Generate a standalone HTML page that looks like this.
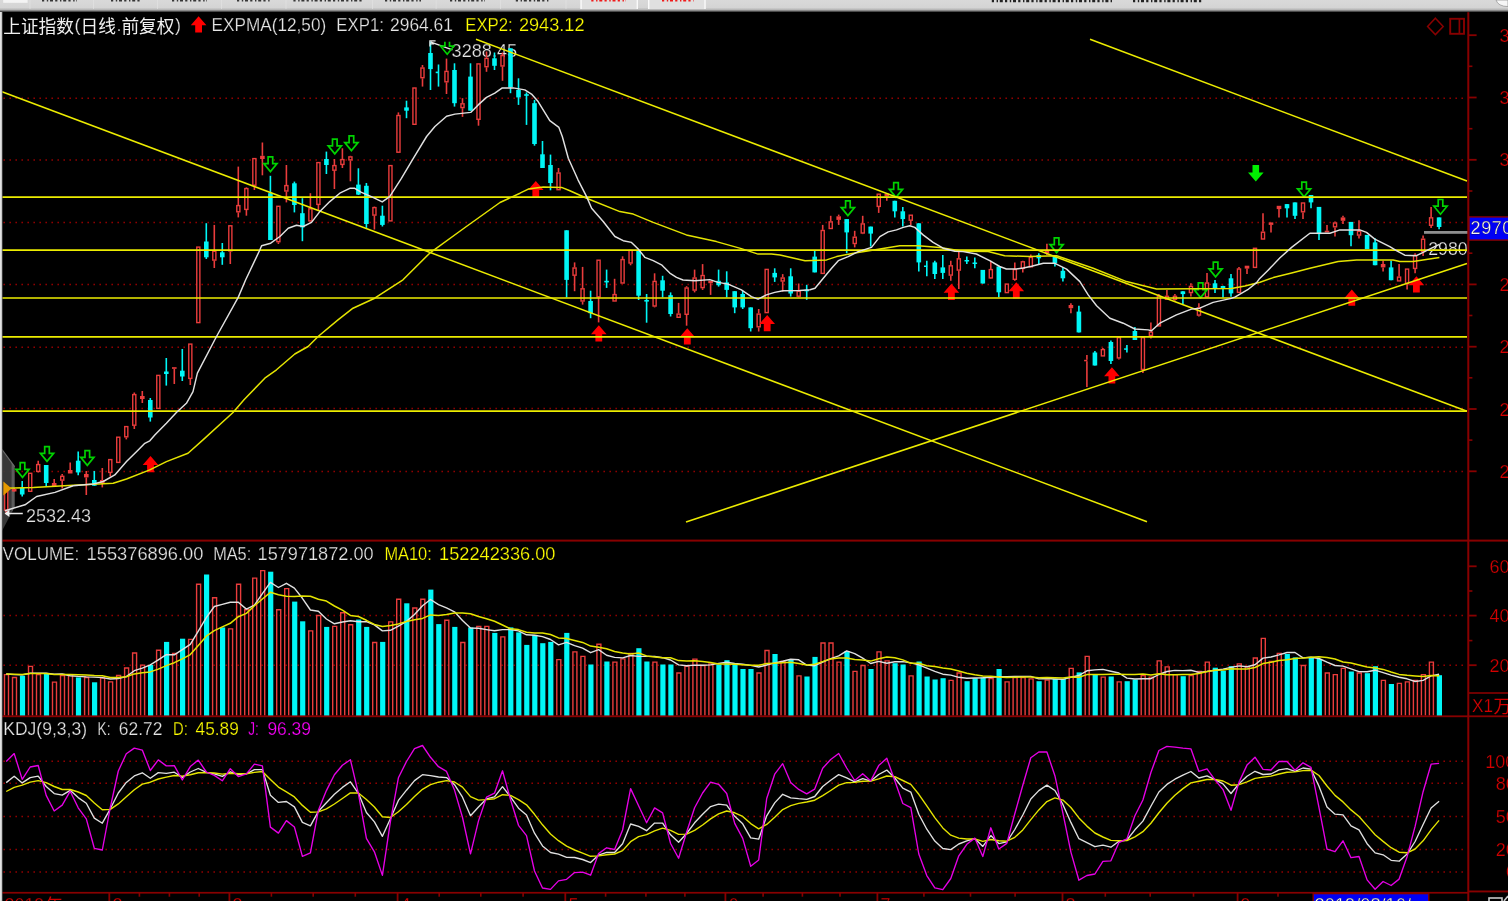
<!DOCTYPE html>
<html><head><meta charset="utf-8"><title>chart</title>
<style>html,body{margin:0;padding:0;background:#000;overflow:hidden}body{width:1508px;height:901px;position:relative;font-family:"Liberation Sans",sans-serif}</style></head>
<body>
<svg width="1508" height="901" viewBox="0 0 1508 901" style="display:block;position:absolute;left:0;top:0;will-change:transform" font-family="Liberation Sans, sans-serif">
<defs>
<linearGradient id="tb" x1="0" y1="0" x2="0" y2="1"><stop offset="0" stop-color="#d9d9d9"/><stop offset="0.62" stop-color="#d4d4d4"/><stop offset="0.8" stop-color="#b4b4b4"/><stop offset="0.93" stop-color="#5a5a5a"/><stop offset="1" stop-color="#000"/></linearGradient>
</defs>
<rect width="1508" height="901" fill="#000"/>
<line x1="3.45" y1="98.2" x2="1464" y2="98.2" stroke="#980000" stroke-width="1.5" stroke-dasharray="1.5 4.5"/>
<line x1="3.45" y1="160" x2="1464" y2="160" stroke="#980000" stroke-width="1.5" stroke-dasharray="1.5 4.5"/>
<line x1="3.45" y1="222.6" x2="1464" y2="222.6" stroke="#980000" stroke-width="1.5" stroke-dasharray="1.5 4.5"/>
<line x1="3.45" y1="284.4" x2="1464" y2="284.4" stroke="#980000" stroke-width="1.5" stroke-dasharray="1.5 4.5"/>
<line x1="3.45" y1="347.2" x2="1464" y2="347.2" stroke="#980000" stroke-width="1.5" stroke-dasharray="1.5 4.5"/>
<line x1="3.45" y1="408.6" x2="1464" y2="408.6" stroke="#980000" stroke-width="1.5" stroke-dasharray="1.5 4.5"/>
<line x1="3.45" y1="471.6" x2="1464" y2="471.6" stroke="#980000" stroke-width="1.5" stroke-dasharray="1.5 4.5"/>
<line x1="3.45" y1="615.5" x2="1464" y2="615.5" stroke="#980000" stroke-width="1.5" stroke-dasharray="1.5 4.5"/>
<line x1="3.45" y1="665.2" x2="1464" y2="665.2" stroke="#980000" stroke-width="1.5" stroke-dasharray="1.5 4.5"/>
<line x1="3.45" y1="761.3" x2="1464" y2="761.3" stroke="#980000" stroke-width="1.5" stroke-dasharray="1.5 4.5"/>
<line x1="3.45" y1="783.3" x2="1464" y2="783.3" stroke="#980000" stroke-width="1.5" stroke-dasharray="1.5 4.5"/>
<line x1="3.45" y1="816.6" x2="1464" y2="816.6" stroke="#980000" stroke-width="1.5" stroke-dasharray="1.5 4.5"/>
<line x1="3.45" y1="849.6" x2="1464" y2="849.6" stroke="#980000" stroke-width="1.5" stroke-dasharray="1.5 4.5"/>
<line x1="3.45" y1="872.1" x2="1464" y2="872.1" stroke="#980000" stroke-width="1.5" stroke-dasharray="1.5 4.5"/>
<text x="451.6" y="56.9" font-size="18" fill="#e6e6e6" text-anchor="start" textLength="65.6" lengthAdjust="spacingAndGlyphs" stroke="#000" stroke-width="0.25">3288.45</text>
<text x="26" y="521.8" font-size="18" fill="#e6e6e6" text-anchor="start" textLength="65" lengthAdjust="spacingAndGlyphs" stroke="#000" stroke-width="0.25">2532.43</text>
<text x="1428.2" y="255" font-size="18" fill="#e6e6e6" text-anchor="start" textLength="39.4" lengthAdjust="spacingAndGlyphs" stroke="#000" stroke-width="0.25">2980</text>
<rect x="1424" y="231" width="44" height="2.8" fill="#8e8e8e"/>
<path d="M2,449.5L14.6,466.6V507L2,531Z" fill="#3c3c3c" fill-opacity="0.92"/>
<path d="M11.6,462.6L14.6,466.6V507L11.6,512.6Z" fill="#606060" fill-opacity="0.9"/>
<path d="M2,449.5L14.6,466.6" stroke="#6a6a6a" stroke-width="1.2" fill="none"/>
<line x1="6.2" y1="510.7" x2="6.2" y2="513" stroke="#ea3c3c" stroke-width="1.6"/>
<rect x="4.65" y="488.0" width="3.1" height="22.1" fill="#000" stroke="#ea3c3c" stroke-width="1.4"/>
<line x1="14.2" y1="488" x2="14.2" y2="489" stroke="#ea3c3c" stroke-width="1.6"/>
<line x1="14.2" y1="491.5" x2="14.2" y2="492" stroke="#ea3c3c" stroke-width="1.6"/>
<rect x="11.9" y="489.0" width="4.6" height="2.5" fill="#ea3c3c"/>
<line x1="22.2" y1="481" x2="22.2" y2="496.5" stroke="#00f6f6" stroke-width="1.6"/>
<rect x="19.9" y="488.0" width="4.6" height="6.5" fill="#00f6f6"/>
<rect x="28.66" y="473.3" width="3.1" height="18.0" fill="#000" stroke="#ea3c3c" stroke-width="1.4"/>
<line x1="38.2" y1="460.7" x2="38.2" y2="464" stroke="#ea3c3c" stroke-width="1.6"/>
<line x1="38.2" y1="472" x2="38.2" y2="472.4" stroke="#ea3c3c" stroke-width="1.6"/>
<rect x="36.67" y="464.6" width="3.1" height="6.8" fill="#000" stroke="#ea3c3c" stroke-width="1.4"/>
<line x1="46.2" y1="465" x2="46.2" y2="486.5" stroke="#00f6f6" stroke-width="1.6"/>
<rect x="43.9" y="465.0" width="4.6" height="18.0" fill="#00f6f6"/>
<line x1="54.2" y1="479" x2="54.2" y2="483" stroke="#ea3c3c" stroke-width="1.6"/>
<rect x="51.9" y="483.0" width="4.6" height="3.5" fill="#ea3c3c"/>
<line x1="62.2" y1="474" x2="62.2" y2="475.7" stroke="#ea3c3c" stroke-width="1.6"/>
<line x1="62.2" y1="480.7" x2="62.2" y2="488.5" stroke="#ea3c3c" stroke-width="1.6"/>
<rect x="60.69" y="476.3" width="3.1" height="3.8" fill="#000" stroke="#ea3c3c" stroke-width="1.4"/>
<line x1="70.2" y1="462.4" x2="70.2" y2="470" stroke="#ea3c3c" stroke-width="1.6"/>
<rect x="67.9" y="470.0" width="4.6" height="3.5" fill="#ea3c3c"/>
<line x1="78.2" y1="451.6" x2="78.2" y2="475.2" stroke="#00f6f6" stroke-width="1.6"/>
<rect x="75.9" y="460.7" width="4.6" height="11.7" fill="#00f6f6"/>
<line x1="86.3" y1="471" x2="86.3" y2="474" stroke="#ea3c3c" stroke-width="1.6"/>
<line x1="86.3" y1="477.4" x2="86.3" y2="495" stroke="#ea3c3c" stroke-width="1.6"/>
<rect x="84.0" y="474.0" width="4.6" height="3.4" fill="#ea3c3c"/>
<line x1="94.3" y1="471" x2="94.3" y2="485.7" stroke="#00f6f6" stroke-width="1.6"/>
<rect x="92.0" y="480.0" width="4.6" height="5.7" fill="#00f6f6"/>
<line x1="102.3" y1="468" x2="102.3" y2="480" stroke="#ea3c3c" stroke-width="1.6"/>
<line x1="102.3" y1="483" x2="102.3" y2="487.4" stroke="#ea3c3c" stroke-width="1.6"/>
<rect x="100.0" y="480.0" width="4.6" height="3.0" fill="#ea3c3c"/>
<line x1="110.3" y1="473" x2="110.3" y2="476.5" stroke="#ea3c3c" stroke-width="1.6"/>
<rect x="108.72" y="459.6" width="3.1" height="12.8" fill="#000" stroke="#ea3c3c" stroke-width="1.4"/>
<rect x="116.72" y="437.2" width="3.1" height="25.2" fill="#000" stroke="#ea3c3c" stroke-width="1.4"/>
<line x1="126.3" y1="437.4" x2="126.3" y2="439.4" stroke="#ea3c3c" stroke-width="1.6"/>
<rect x="124.73" y="426.6" width="3.1" height="10.2" fill="#000" stroke="#ea3c3c" stroke-width="1.4"/>
<line x1="134.3" y1="392.5" x2="134.3" y2="394" stroke="#ea3c3c" stroke-width="1.6"/>
<line x1="134.3" y1="425.8" x2="134.3" y2="429" stroke="#ea3c3c" stroke-width="1.6"/>
<rect x="132.73" y="394.6" width="3.1" height="30.6" fill="#000" stroke="#ea3c3c" stroke-width="1.4"/>
<line x1="142.3" y1="391" x2="142.3" y2="396" stroke="#ea3c3c" stroke-width="1.6"/>
<line x1="142.3" y1="399" x2="142.3" y2="403" stroke="#ea3c3c" stroke-width="1.6"/>
<rect x="140.0" y="396.0" width="4.6" height="3.0" fill="#ea3c3c"/>
<line x1="150.3" y1="398" x2="150.3" y2="421.6" stroke="#00f6f6" stroke-width="1.6"/>
<rect x="148.0" y="400.0" width="4.6" height="17.5" fill="#00f6f6"/>
<rect x="156.75" y="375.4" width="3.1" height="33.0" fill="#000" stroke="#ea3c3c" stroke-width="1.4"/>
<line x1="166.3" y1="358" x2="166.3" y2="385.6" stroke="#00f6f6" stroke-width="1.6"/>
<rect x="164.0" y="371.5" width="4.6" height="2.5" fill="#00f6f6"/>
<line x1="174.3" y1="368.8" x2="174.3" y2="384" stroke="#ea3c3c" stroke-width="1.6"/>
<rect x="172.0" y="367.2" width="4.6" height="1.6" fill="#ea3c3c"/>
<line x1="182.3" y1="349" x2="182.3" y2="381" stroke="#00f6f6" stroke-width="1.6"/>
<rect x="180.0" y="370.7" width="4.6" height="5.8" fill="#00f6f6"/>
<line x1="190.3" y1="379" x2="190.3" y2="385" stroke="#ea3c3c" stroke-width="1.6"/>
<rect x="188.76" y="344.1" width="3.1" height="34.3" fill="#000" stroke="#ea3c3c" stroke-width="1.4"/>
<rect x="196.77" y="247.1" width="3.1" height="75.5" fill="#000" stroke="#ea3c3c" stroke-width="1.4"/>
<line x1="206.3" y1="223.2" x2="206.3" y2="259" stroke="#00f6f6" stroke-width="1.6"/>
<rect x="204.0" y="241.5" width="4.6" height="15.8" fill="#00f6f6"/>
<line x1="214.3" y1="224.9" x2="214.3" y2="250.7" stroke="#ea3c3c" stroke-width="1.6"/>
<line x1="214.3" y1="260.7" x2="214.3" y2="268" stroke="#ea3c3c" stroke-width="1.6"/>
<rect x="212.78" y="251.3" width="3.1" height="8.8" fill="#000" stroke="#ea3c3c" stroke-width="1.4"/>
<line x1="222.3" y1="243" x2="222.3" y2="264.8" stroke="#00f6f6" stroke-width="1.6"/>
<rect x="220.0" y="252.3" width="4.6" height="5.0" fill="#00f6f6"/>
<line x1="230.3" y1="251.5" x2="230.3" y2="264" stroke="#ea3c3c" stroke-width="1.6"/>
<rect x="228.79" y="225.8" width="3.1" height="25.1" fill="#000" stroke="#ea3c3c" stroke-width="1.4"/>
<line x1="238.3" y1="166.6" x2="238.3" y2="205" stroke="#ea3c3c" stroke-width="1.6"/>
<line x1="238.3" y1="212.4" x2="238.3" y2="217.4" stroke="#ea3c3c" stroke-width="1.6"/>
<rect x="236.79" y="205.6" width="3.1" height="6.2" fill="#000" stroke="#ea3c3c" stroke-width="1.4"/>
<line x1="246.4" y1="187.4" x2="246.4" y2="188" stroke="#ea3c3c" stroke-width="1.6"/>
<line x1="246.4" y1="210" x2="246.4" y2="215.7" stroke="#ea3c3c" stroke-width="1.6"/>
<rect x="244.80" y="188.6" width="3.1" height="20.8" fill="#000" stroke="#ea3c3c" stroke-width="1.4"/>
<line x1="254.4" y1="185.8" x2="254.4" y2="190" stroke="#ea3c3c" stroke-width="1.6"/>
<rect x="252.81" y="158.6" width="3.1" height="26.6" fill="#000" stroke="#ea3c3c" stroke-width="1.4"/>
<line x1="262.4" y1="142.5" x2="262.4" y2="155.8" stroke="#ea3c3c" stroke-width="1.6"/>
<line x1="262.4" y1="159" x2="262.4" y2="175.3" stroke="#ea3c3c" stroke-width="1.6"/>
<rect x="260.1" y="155.8" width="4.6" height="3.2" fill="#ea3c3c"/>
<line x1="270.4" y1="175.8" x2="270.4" y2="240" stroke="#00f6f6" stroke-width="1.6"/>
<rect x="268.1" y="193.2" width="4.6" height="46.8" fill="#00f6f6"/>
<line x1="278.4" y1="242.3" x2="278.4" y2="244" stroke="#ea3c3c" stroke-width="1.6"/>
<rect x="276.82" y="206.3" width="3.1" height="35.4" fill="#000" stroke="#ea3c3c" stroke-width="1.4"/>
<line x1="286.4" y1="165" x2="286.4" y2="185" stroke="#ea3c3c" stroke-width="1.6"/>
<line x1="286.4" y1="191.6" x2="286.4" y2="202.4" stroke="#ea3c3c" stroke-width="1.6"/>
<rect x="284.82" y="185.6" width="3.1" height="5.4" fill="#000" stroke="#ea3c3c" stroke-width="1.4"/>
<line x1="294.4" y1="181.6" x2="294.4" y2="212.4" stroke="#00f6f6" stroke-width="1.6"/>
<rect x="292.1" y="183.3" width="4.6" height="21.7" fill="#00f6f6"/>
<line x1="302.4" y1="198.2" x2="302.4" y2="241.2" stroke="#00f6f6" stroke-width="1.6"/>
<rect x="300.1" y="213.2" width="4.6" height="14.2" fill="#00f6f6"/>
<line x1="310.4" y1="193.2" x2="310.4" y2="208.2" stroke="#ea3c3c" stroke-width="1.6"/>
<line x1="310.4" y1="221.5" x2="310.4" y2="222.4" stroke="#ea3c3c" stroke-width="1.6"/>
<rect x="308.84" y="208.8" width="3.1" height="12.1" fill="#000" stroke="#ea3c3c" stroke-width="1.4"/>
<line x1="318.4" y1="205" x2="318.4" y2="210.7" stroke="#ea3c3c" stroke-width="1.6"/>
<rect x="316.85" y="162.6" width="3.1" height="41.8" fill="#000" stroke="#ea3c3c" stroke-width="1.4"/>
<line x1="326.4" y1="151.6" x2="326.4" y2="174" stroke="#00f6f6" stroke-width="1.6"/>
<rect x="324.1" y="159.0" width="4.6" height="6.0" fill="#00f6f6"/>
<line x1="334.4" y1="159" x2="334.4" y2="165" stroke="#ea3c3c" stroke-width="1.6"/>
<line x1="334.4" y1="170.8" x2="334.4" y2="189" stroke="#ea3c3c" stroke-width="1.6"/>
<rect x="332.86" y="165.6" width="3.1" height="4.6" fill="#000" stroke="#ea3c3c" stroke-width="1.4"/>
<line x1="342.4" y1="148.3" x2="342.4" y2="159" stroke="#ea3c3c" stroke-width="1.6"/>
<line x1="342.4" y1="165" x2="342.4" y2="168" stroke="#ea3c3c" stroke-width="1.6"/>
<rect x="340.86" y="159.6" width="3.1" height="4.8" fill="#000" stroke="#ea3c3c" stroke-width="1.4"/>
<line x1="350.4" y1="155.8" x2="350.4" y2="156.3" stroke="#ea3c3c" stroke-width="1.6"/>
<line x1="350.4" y1="160.5" x2="350.4" y2="181.3" stroke="#ea3c3c" stroke-width="1.6"/>
<rect x="348.87" y="156.9" width="3.1" height="3.0" fill="#000" stroke="#ea3c3c" stroke-width="1.4"/>
<line x1="358.4" y1="168.3" x2="358.4" y2="195" stroke="#00f6f6" stroke-width="1.6"/>
<rect x="356.1" y="184.6" width="4.6" height="10.0" fill="#00f6f6"/>
<line x1="366.4" y1="183" x2="366.4" y2="227.9" stroke="#00f6f6" stroke-width="1.6"/>
<rect x="364.1" y="185.8" width="4.6" height="38.2" fill="#00f6f6"/>
<line x1="374.4" y1="206.6" x2="374.4" y2="207" stroke="#ea3c3c" stroke-width="1.6"/>
<line x1="374.4" y1="215.7" x2="374.4" y2="229.5" stroke="#ea3c3c" stroke-width="1.6"/>
<rect x="372.88" y="207.6" width="3.1" height="7.5" fill="#000" stroke="#ea3c3c" stroke-width="1.4"/>
<line x1="382.4" y1="205.7" x2="382.4" y2="226.5" stroke="#00f6f6" stroke-width="1.6"/>
<rect x="380.1" y="215.7" width="4.6" height="9.2" fill="#00f6f6"/>
<rect x="388.89" y="165.6" width="3.1" height="55.3" fill="#000" stroke="#ea3c3c" stroke-width="1.4"/>
<line x1="398.4" y1="112.4" x2="398.4" y2="114.9" stroke="#ea3c3c" stroke-width="1.6"/>
<rect x="396.90" y="115.5" width="3.1" height="36.7" fill="#000" stroke="#ea3c3c" stroke-width="1.4"/>
<line x1="406.5" y1="100.7" x2="406.5" y2="118.2" stroke="#00f6f6" stroke-width="1.6"/>
<rect x="404.2" y="107.4" width="4.6" height="3.3" fill="#00f6f6"/>
<rect x="412.91" y="88.0" width="3.1" height="36.3" fill="#000" stroke="#ea3c3c" stroke-width="1.4"/>
<line x1="422.5" y1="65" x2="422.5" y2="67.4" stroke="#ea3c3c" stroke-width="1.6"/>
<line x1="422.5" y1="78.3" x2="422.5" y2="86.6" stroke="#ea3c3c" stroke-width="1.6"/>
<rect x="420.91" y="68.0" width="3.1" height="9.7" fill="#000" stroke="#ea3c3c" stroke-width="1.4"/>
<line x1="430.5" y1="41.6" x2="430.5" y2="90" stroke="#00f6f6" stroke-width="1.6"/>
<rect x="428.2" y="53.0" width="4.6" height="16.1" fill="#00f6f6"/>
<line x1="438.5" y1="64.5" x2="438.5" y2="86.6" stroke="#00f6f6" stroke-width="1.6"/>
<rect x="435.7" y="71.6" width="3.2" height="1.6" fill="#00f6f6"/>
<line x1="446.5" y1="58.6" x2="446.5" y2="70.8" stroke="#ea3c3c" stroke-width="1.6"/>
<line x1="446.5" y1="82.4" x2="446.5" y2="94" stroke="#ea3c3c" stroke-width="1.6"/>
<rect x="444.93" y="71.4" width="3.1" height="10.4" fill="#000" stroke="#ea3c3c" stroke-width="1.4"/>
<line x1="454.5" y1="63.3" x2="454.5" y2="106.6" stroke="#00f6f6" stroke-width="1.6"/>
<rect x="452.2" y="70.0" width="4.6" height="33.2" fill="#00f6f6"/>
<line x1="462.5" y1="98.2" x2="462.5" y2="103.2" stroke="#ea3c3c" stroke-width="1.6"/>
<line x1="462.5" y1="108.2" x2="462.5" y2="116.9" stroke="#ea3c3c" stroke-width="1.6"/>
<rect x="460.94" y="103.8" width="3.1" height="3.8" fill="#000" stroke="#ea3c3c" stroke-width="1.4"/>
<line x1="470.5" y1="63.3" x2="470.5" y2="110.7" stroke="#00f6f6" stroke-width="1.6"/>
<rect x="468.2" y="76.6" width="4.6" height="34.1" fill="#00f6f6"/>
<line x1="478.5" y1="119.9" x2="478.5" y2="125.7" stroke="#ea3c3c" stroke-width="1.6"/>
<rect x="476.95" y="63.9" width="3.1" height="55.4" fill="#000" stroke="#ea3c3c" stroke-width="1.4"/>
<line x1="486.5" y1="51.5" x2="486.5" y2="57.8" stroke="#ea3c3c" stroke-width="1.6"/>
<line x1="486.5" y1="67.3" x2="486.5" y2="71.8" stroke="#ea3c3c" stroke-width="1.6"/>
<rect x="484.95" y="58.4" width="3.1" height="8.3" fill="#000" stroke="#ea3c3c" stroke-width="1.4"/>
<line x1="494.5" y1="52.5" x2="494.5" y2="70" stroke="#00f6f6" stroke-width="1.6"/>
<rect x="492.2" y="58.3" width="4.6" height="7.5" fill="#00f6f6"/>
<line x1="502.5" y1="52.5" x2="502.5" y2="55" stroke="#ea3c3c" stroke-width="1.6"/>
<line x1="502.5" y1="66.6" x2="502.5" y2="80.8" stroke="#ea3c3c" stroke-width="1.6"/>
<rect x="500.96" y="55.6" width="3.1" height="10.4" fill="#000" stroke="#ea3c3c" stroke-width="1.4"/>
<line x1="510.5" y1="48.3" x2="510.5" y2="93.2" stroke="#00f6f6" stroke-width="1.6"/>
<rect x="508.2" y="48.3" width="4.6" height="39.1" fill="#00f6f6"/>
<line x1="518.5" y1="78.3" x2="518.5" y2="104.9" stroke="#00f6f6" stroke-width="1.6"/>
<rect x="516.2" y="89.9" width="4.6" height="7.5" fill="#00f6f6"/>
<line x1="526.5" y1="92.4" x2="526.5" y2="124.9" stroke="#00f6f6" stroke-width="1.6"/>
<rect x="524.2" y="94.2" width="4.6" height="1.6" fill="#00f6f6"/>
<line x1="534.5" y1="99.9" x2="534.5" y2="145.7" stroke="#00f6f6" stroke-width="1.6"/>
<rect x="532.2" y="103.2" width="4.6" height="40.8" fill="#00f6f6"/>
<line x1="542.5" y1="141" x2="542.5" y2="168" stroke="#00f6f6" stroke-width="1.6"/>
<rect x="540.2" y="154.3" width="4.6" height="13.7" fill="#00f6f6"/>
<line x1="550.5" y1="154.6" x2="550.5" y2="190.3" stroke="#00f6f6" stroke-width="1.6"/>
<rect x="548.2" y="165.0" width="4.6" height="18.0" fill="#00f6f6"/>
<line x1="558.5" y1="168" x2="558.5" y2="172.4" stroke="#ea3c3c" stroke-width="1.6"/>
<rect x="557.00" y="173.0" width="3.1" height="16.7" fill="#000" stroke="#ea3c3c" stroke-width="1.4"/>
<line x1="566.6" y1="230.3" x2="566.6" y2="297.4" stroke="#00f6f6" stroke-width="1.6"/>
<rect x="564.3" y="230.3" width="4.6" height="49.6" fill="#00f6f6"/>
<line x1="574.6" y1="262.4" x2="574.6" y2="267.4" stroke="#ea3c3c" stroke-width="1.6"/>
<line x1="574.6" y1="275.8" x2="574.6" y2="291.2" stroke="#ea3c3c" stroke-width="1.6"/>
<rect x="573.01" y="268.0" width="3.1" height="7.2" fill="#000" stroke="#ea3c3c" stroke-width="1.4"/>
<line x1="582.6" y1="266.9" x2="582.6" y2="288.2" stroke="#ea3c3c" stroke-width="1.6"/>
<line x1="582.6" y1="301.6" x2="582.6" y2="304.6" stroke="#ea3c3c" stroke-width="1.6"/>
<rect x="581.01" y="288.8" width="3.1" height="12.2" fill="#000" stroke="#ea3c3c" stroke-width="1.4"/>
<line x1="590.6" y1="290.7" x2="590.6" y2="318.2" stroke="#00f6f6" stroke-width="1.6"/>
<rect x="588.3" y="301.0" width="4.6" height="12.2" fill="#00f6f6"/>
<line x1="598.6" y1="297.4" x2="598.6" y2="322.4" stroke="#ea3c3c" stroke-width="1.6"/>
<rect x="597.02" y="260.2" width="3.1" height="36.6" fill="#000" stroke="#ea3c3c" stroke-width="1.4"/>
<line x1="606.6" y1="269.6" x2="606.6" y2="287.9" stroke="#00f6f6" stroke-width="1.6"/>
<rect x="604.3" y="280.8" width="4.6" height="1.6" fill="#00f6f6"/>
<line x1="614.6" y1="278.8" x2="614.6" y2="294" stroke="#ea3c3c" stroke-width="1.6"/>
<rect x="613.03" y="294.6" width="3.1" height="6.4" fill="#000" stroke="#ea3c3c" stroke-width="1.4"/>
<line x1="622.6" y1="256.3" x2="622.6" y2="259" stroke="#ea3c3c" stroke-width="1.6"/>
<rect x="621.04" y="259.6" width="3.1" height="23.4" fill="#000" stroke="#ea3c3c" stroke-width="1.4"/>
<line x1="630.6" y1="263.6" x2="630.6" y2="265.3" stroke="#ea3c3c" stroke-width="1.6"/>
<rect x="629.04" y="250.4" width="3.1" height="12.6" fill="#000" stroke="#ea3c3c" stroke-width="1.4"/>
<line x1="638.6" y1="250" x2="638.6" y2="300" stroke="#00f6f6" stroke-width="1.6"/>
<rect x="636.3" y="250.0" width="4.6" height="45.7" fill="#00f6f6"/>
<line x1="646.6" y1="294" x2="646.6" y2="322.7" stroke="#00f6f6" stroke-width="1.6"/>
<rect x="644.3" y="300.0" width="4.6" height="1.6" fill="#00f6f6"/>
<line x1="654.6" y1="273.3" x2="654.6" y2="280.8" stroke="#ea3c3c" stroke-width="1.6"/>
<line x1="654.6" y1="306.6" x2="654.6" y2="307.4" stroke="#ea3c3c" stroke-width="1.6"/>
<rect x="653.06" y="281.4" width="3.1" height="24.6" fill="#000" stroke="#ea3c3c" stroke-width="1.4"/>
<line x1="662.6" y1="275.8" x2="662.6" y2="297.4" stroke="#00f6f6" stroke-width="1.6"/>
<rect x="660.3" y="280.3" width="4.6" height="10.4" fill="#00f6f6"/>
<line x1="670.6" y1="292.4" x2="670.6" y2="316.5" stroke="#00f6f6" stroke-width="1.6"/>
<rect x="668.3" y="295.2" width="4.6" height="18.8" fill="#00f6f6"/>
<line x1="678.6" y1="302.9" x2="678.6" y2="313.5" stroke="#ea3c3c" stroke-width="1.6"/>
<rect x="677.07" y="314.1" width="3.1" height="3.2" fill="#000" stroke="#ea3c3c" stroke-width="1.4"/>
<line x1="686.6" y1="286.2" x2="686.6" y2="287.4" stroke="#ea3c3c" stroke-width="1.6"/>
<line x1="686.6" y1="314.9" x2="686.6" y2="325.7" stroke="#ea3c3c" stroke-width="1.6"/>
<rect x="685.08" y="288.0" width="3.1" height="26.3" fill="#000" stroke="#ea3c3c" stroke-width="1.4"/>
<line x1="694.6" y1="269.6" x2="694.6" y2="277.4" stroke="#ea3c3c" stroke-width="1.6"/>
<line x1="694.6" y1="290.7" x2="694.6" y2="292.4" stroke="#ea3c3c" stroke-width="1.6"/>
<rect x="693.08" y="278.0" width="3.1" height="12.1" fill="#000" stroke="#ea3c3c" stroke-width="1.4"/>
<line x1="702.6" y1="264.1" x2="702.6" y2="274.9" stroke="#ea3c3c" stroke-width="1.6"/>
<line x1="702.6" y1="288.2" x2="702.6" y2="289.9" stroke="#ea3c3c" stroke-width="1.6"/>
<rect x="701.09" y="275.5" width="3.1" height="12.1" fill="#000" stroke="#ea3c3c" stroke-width="1.4"/>
<line x1="710.6" y1="283.2" x2="710.6" y2="294.9" stroke="#ea3c3c" stroke-width="1.6"/>
<rect x="708.3" y="280.8" width="4.6" height="2.4" fill="#ea3c3c"/>
<line x1="718.6" y1="269.6" x2="718.6" y2="286.6" stroke="#00f6f6" stroke-width="1.6"/>
<rect x="716.3" y="280.8" width="4.6" height="4.4" fill="#00f6f6"/>
<line x1="726.7" y1="271.3" x2="726.7" y2="297.4" stroke="#00f6f6" stroke-width="1.6"/>
<rect x="724.4" y="282.4" width="4.6" height="7.5" fill="#00f6f6"/>
<line x1="734.7" y1="291.2" x2="734.7" y2="313.2" stroke="#00f6f6" stroke-width="1.6"/>
<rect x="732.4" y="291.2" width="4.6" height="16.2" fill="#00f6f6"/>
<line x1="742.7" y1="290.7" x2="742.7" y2="309" stroke="#00f6f6" stroke-width="1.6"/>
<rect x="740.4" y="294.0" width="4.6" height="13.4" fill="#00f6f6"/>
<line x1="750.7" y1="307.4" x2="750.7" y2="331.5" stroke="#00f6f6" stroke-width="1.6"/>
<rect x="748.4" y="307.4" width="4.6" height="20.8" fill="#00f6f6"/>
<line x1="758.7" y1="309" x2="758.7" y2="313.5" stroke="#ea3c3c" stroke-width="1.6"/>
<line x1="758.7" y1="327.4" x2="758.7" y2="331.5" stroke="#ea3c3c" stroke-width="1.6"/>
<rect x="757.12" y="314.1" width="3.1" height="12.7" fill="#000" stroke="#ea3c3c" stroke-width="1.4"/>
<rect x="765.13" y="269.4" width="3.1" height="43.2" fill="#000" stroke="#ea3c3c" stroke-width="1.4"/>
<line x1="774.7" y1="268.3" x2="774.7" y2="281.9" stroke="#00f6f6" stroke-width="1.6"/>
<rect x="772.4" y="272.9" width="4.6" height="4.5" fill="#00f6f6"/>
<line x1="782.7" y1="274.1" x2="782.7" y2="277.4" stroke="#ea3c3c" stroke-width="1.6"/>
<line x1="782.7" y1="281.6" x2="782.7" y2="291.6" stroke="#ea3c3c" stroke-width="1.6"/>
<rect x="781.14" y="278.0" width="3.1" height="3.0" fill="#000" stroke="#ea3c3c" stroke-width="1.4"/>
<line x1="790.7" y1="268.3" x2="790.7" y2="296.6" stroke="#00f6f6" stroke-width="1.6"/>
<rect x="788.4" y="276.3" width="4.6" height="17.2" fill="#00f6f6"/>
<line x1="798.7" y1="283.5" x2="798.7" y2="290.7" stroke="#ea3c3c" stroke-width="1.6"/>
<line x1="798.7" y1="296.8" x2="798.7" y2="297.3" stroke="#ea3c3c" stroke-width="1.6"/>
<rect x="797.15" y="291.3" width="3.1" height="4.9" fill="#000" stroke="#ea3c3c" stroke-width="1.4"/>
<line x1="806.7" y1="284.8" x2="806.7" y2="299.8" stroke="#00f6f6" stroke-width="1.6"/>
<rect x="804.4" y="289.8" width="4.6" height="1.5" fill="#00f6f6"/>
<line x1="814.7" y1="250.7" x2="814.7" y2="272.4" stroke="#00f6f6" stroke-width="1.6"/>
<rect x="812.4" y="256.6" width="4.6" height="15.8" fill="#00f6f6"/>
<line x1="822.7" y1="224.9" x2="822.7" y2="229.9" stroke="#ea3c3c" stroke-width="1.6"/>
<rect x="821.16" y="230.5" width="3.1" height="42.9" fill="#000" stroke="#ea3c3c" stroke-width="1.4"/>
<line x1="830.7" y1="215.8" x2="830.7" y2="221.3" stroke="#ea3c3c" stroke-width="1.6"/>
<rect x="829.17" y="221.9" width="3.1" height="6.6" fill="#000" stroke="#ea3c3c" stroke-width="1.4"/>
<line x1="838.7" y1="214.6" x2="838.7" y2="216.3" stroke="#ea3c3c" stroke-width="1.6"/>
<line x1="838.7" y1="219.9" x2="838.7" y2="224.9" stroke="#ea3c3c" stroke-width="1.6"/>
<rect x="836.4" y="216.3" width="4.6" height="3.6" fill="#ea3c3c"/>
<line x1="846.7" y1="219.1" x2="846.7" y2="253.2" stroke="#00f6f6" stroke-width="1.6"/>
<rect x="844.4" y="219.1" width="4.6" height="13.3" fill="#00f6f6"/>
<line x1="854.7" y1="230.8" x2="854.7" y2="236.6" stroke="#ea3c3c" stroke-width="1.6"/>
<line x1="854.7" y1="244.1" x2="854.7" y2="247.4" stroke="#ea3c3c" stroke-width="1.6"/>
<rect x="853.18" y="237.2" width="3.1" height="6.3" fill="#000" stroke="#ea3c3c" stroke-width="1.4"/>
<line x1="862.7" y1="215.8" x2="862.7" y2="223.3" stroke="#ea3c3c" stroke-width="1.6"/>
<line x1="862.7" y1="233.6" x2="862.7" y2="234.1" stroke="#ea3c3c" stroke-width="1.6"/>
<rect x="861.19" y="223.9" width="3.1" height="9.1" fill="#000" stroke="#ea3c3c" stroke-width="1.4"/>
<line x1="870.7" y1="226.6" x2="870.7" y2="246.6" stroke="#00f6f6" stroke-width="1.6"/>
<rect x="868.4" y="226.6" width="4.6" height="7.0" fill="#00f6f6"/>
<line x1="878.7" y1="207" x2="878.7" y2="212.9" stroke="#ea3c3c" stroke-width="1.6"/>
<rect x="877.20" y="194.2" width="3.1" height="12.2" fill="#000" stroke="#ea3c3c" stroke-width="1.4"/>
<line x1="886.8" y1="196.6" x2="886.8" y2="200.8" stroke="#ea3c3c" stroke-width="1.6"/>
<rect x="884.5" y="193.6" width="4.6" height="3.0" fill="#ea3c3c"/>
<line x1="894.8" y1="200.8" x2="894.8" y2="217.4" stroke="#00f6f6" stroke-width="1.6"/>
<rect x="892.5" y="200.8" width="4.6" height="10.5" fill="#00f6f6"/>
<line x1="902.8" y1="207" x2="902.8" y2="226.6" stroke="#00f6f6" stroke-width="1.6"/>
<rect x="900.5" y="211.3" width="4.6" height="7.8" fill="#00f6f6"/>
<line x1="910.8" y1="220.8" x2="910.8" y2="224.9" stroke="#ea3c3c" stroke-width="1.6"/>
<rect x="909.22" y="215.2" width="3.1" height="5.0" fill="#000" stroke="#ea3c3c" stroke-width="1.4"/>
<line x1="918.8" y1="223.3" x2="918.8" y2="271.5" stroke="#00f6f6" stroke-width="1.6"/>
<rect x="916.5" y="223.3" width="4.6" height="39.1" fill="#00f6f6"/>
<line x1="926.8" y1="260.7" x2="926.8" y2="276.2" stroke="#00f6f6" stroke-width="1.6"/>
<rect x="924.0" y="265.5" width="3.2" height="1.5" fill="#00f6f6"/>
<line x1="934.8" y1="260.7" x2="934.8" y2="279" stroke="#00f6f6" stroke-width="1.6"/>
<rect x="932.5" y="262.4" width="4.6" height="11.6" fill="#00f6f6"/>
<line x1="942.8" y1="254.9" x2="942.8" y2="279" stroke="#00f6f6" stroke-width="1.6"/>
<rect x="940.5" y="267.4" width="4.6" height="5.5" fill="#00f6f6"/>
<line x1="950.8" y1="260.7" x2="950.8" y2="265.2" stroke="#ea3c3c" stroke-width="1.6"/>
<line x1="950.8" y1="275.7" x2="950.8" y2="280.7" stroke="#ea3c3c" stroke-width="1.6"/>
<rect x="949.24" y="265.8" width="3.1" height="9.3" fill="#000" stroke="#ea3c3c" stroke-width="1.4"/>
<line x1="958.8" y1="250.7" x2="958.8" y2="258.2" stroke="#ea3c3c" stroke-width="1.6"/>
<line x1="958.8" y1="270.7" x2="958.8" y2="289" stroke="#ea3c3c" stroke-width="1.6"/>
<rect x="957.25" y="258.8" width="3.1" height="11.3" fill="#000" stroke="#ea3c3c" stroke-width="1.4"/>
<line x1="966.8" y1="256.6" x2="966.8" y2="264" stroke="#00f6f6" stroke-width="1.6"/>
<rect x="964.5" y="260.0" width="4.6" height="1.5" fill="#00f6f6"/>
<line x1="974.8" y1="257.4" x2="974.8" y2="268.2" stroke="#00f6f6" stroke-width="1.6"/>
<rect x="972.5" y="262.5" width="4.6" height="1.5" fill="#00f6f6"/>
<line x1="982.8" y1="269.9" x2="982.8" y2="283.5" stroke="#00f6f6" stroke-width="1.6"/>
<rect x="980.5" y="269.9" width="4.6" height="13.6" fill="#00f6f6"/>
<line x1="990.8" y1="260.7" x2="990.8" y2="269" stroke="#ea3c3c" stroke-width="1.6"/>
<line x1="990.8" y1="278.5" x2="990.8" y2="279" stroke="#ea3c3c" stroke-width="1.6"/>
<rect x="989.27" y="269.6" width="3.1" height="8.3" fill="#000" stroke="#ea3c3c" stroke-width="1.4"/>
<line x1="998.8" y1="266.5" x2="998.8" y2="297.3" stroke="#00f6f6" stroke-width="1.6"/>
<rect x="996.5" y="266.5" width="4.6" height="25.8" fill="#00f6f6"/>
<rect x="1005.28" y="284.1" width="3.1" height="8.5" fill="#000" stroke="#ea3c3c" stroke-width="1.4"/>
<line x1="1014.8" y1="262.4" x2="1014.8" y2="269" stroke="#ea3c3c" stroke-width="1.6"/>
<line x1="1014.8" y1="279.9" x2="1014.8" y2="280.7" stroke="#ea3c3c" stroke-width="1.6"/>
<rect x="1013.28" y="269.6" width="3.1" height="9.7" fill="#000" stroke="#ea3c3c" stroke-width="1.4"/>
<line x1="1022.8" y1="260.7" x2="1022.8" y2="261.2" stroke="#ea3c3c" stroke-width="1.6"/>
<line x1="1022.8" y1="269" x2="1022.8" y2="272.4" stroke="#ea3c3c" stroke-width="1.6"/>
<rect x="1021.29" y="261.8" width="3.1" height="6.6" fill="#000" stroke="#ea3c3c" stroke-width="1.4"/>
<line x1="1030.8" y1="254.6" x2="1030.8" y2="256.8" stroke="#ea3c3c" stroke-width="1.6"/>
<rect x="1029.29" y="257.4" width="3.1" height="9.4" fill="#000" stroke="#ea3c3c" stroke-width="1.4"/>
<line x1="1038.8" y1="253.3" x2="1038.8" y2="264" stroke="#00f6f6" stroke-width="1.6"/>
<rect x="1036.5" y="255.0" width="4.6" height="3.3" fill="#00f6f6"/>
<line x1="1046.9" y1="243.8" x2="1046.9" y2="250" stroke="#ea3c3c" stroke-width="1.6"/>
<line x1="1046.9" y1="253.4" x2="1046.9" y2="255" stroke="#ea3c3c" stroke-width="1.6"/>
<rect x="1044.6" y="250.0" width="4.6" height="3.4" fill="#ea3c3c"/>
<line x1="1054.9" y1="255" x2="1054.9" y2="266.6" stroke="#00f6f6" stroke-width="1.6"/>
<rect x="1052.6" y="256.6" width="4.6" height="6.7" fill="#00f6f6"/>
<line x1="1062.9" y1="267" x2="1062.9" y2="281.6" stroke="#00f6f6" stroke-width="1.6"/>
<rect x="1060.6" y="270.8" width="4.6" height="7.5" fill="#00f6f6"/>
<line x1="1070.9" y1="303.2" x2="1070.9" y2="305" stroke="#ea3c3c" stroke-width="1.6"/>
<line x1="1070.9" y1="308.2" x2="1070.9" y2="313.2" stroke="#ea3c3c" stroke-width="1.6"/>
<rect x="1068.6" y="305.0" width="4.6" height="3.2" fill="#ea3c3c"/>
<line x1="1078.9" y1="305.7" x2="1078.9" y2="332.4" stroke="#00f6f6" stroke-width="1.6"/>
<rect x="1076.6" y="311.6" width="4.6" height="20.8" fill="#00f6f6"/>
<line x1="1086.9" y1="355" x2="1086.9" y2="359.8" stroke="#ea3c3c" stroke-width="1.6"/>
<line x1="1086.9" y1="361.3" x2="1086.9" y2="387" stroke="#ea3c3c" stroke-width="1.6"/>
<rect x="1084.1" y="359.8" width="3.2" height="1.5" fill="#ea3c3c"/>
<line x1="1094.9" y1="351" x2="1094.9" y2="365.5" stroke="#00f6f6" stroke-width="1.6"/>
<rect x="1092.6" y="352.5" width="4.6" height="13.0" fill="#00f6f6"/>
<line x1="1102.9" y1="348" x2="1102.9" y2="349" stroke="#ea3c3c" stroke-width="1.6"/>
<rect x="1101.34" y="349.6" width="3.1" height="6.3" fill="#000" stroke="#ea3c3c" stroke-width="1.4"/>
<line x1="1110.9" y1="340.5" x2="1110.9" y2="364" stroke="#00f6f6" stroke-width="1.6"/>
<rect x="1108.6" y="342.0" width="4.6" height="19.0" fill="#00f6f6"/>
<line x1="1118.9" y1="358.5" x2="1118.9" y2="359.5" stroke="#ea3c3c" stroke-width="1.6"/>
<rect x="1117.35" y="337.6" width="3.1" height="20.3" fill="#000" stroke="#ea3c3c" stroke-width="1.4"/>
<line x1="1126.9" y1="345" x2="1126.9" y2="352.5" stroke="#00f6f6" stroke-width="1.6"/>
<rect x="1124.1" y="348.3" width="3.2" height="1.5" fill="#00f6f6"/>
<line x1="1134.9" y1="327" x2="1134.9" y2="340" stroke="#00f6f6" stroke-width="1.6"/>
<rect x="1132.6" y="331.0" width="4.6" height="9.0" fill="#00f6f6"/>
<line x1="1142.9" y1="370" x2="1142.9" y2="373" stroke="#ea3c3c" stroke-width="1.6"/>
<rect x="1141.36" y="337.6" width="3.1" height="31.8" fill="#000" stroke="#ea3c3c" stroke-width="1.4"/>
<line x1="1150.9" y1="322.5" x2="1150.9" y2="331.5" stroke="#ea3c3c" stroke-width="1.6"/>
<line x1="1150.9" y1="336" x2="1150.9" y2="338.5" stroke="#ea3c3c" stroke-width="1.6"/>
<rect x="1149.37" y="332.1" width="3.1" height="3.3" fill="#000" stroke="#ea3c3c" stroke-width="1.4"/>
<line x1="1158.9" y1="294.1" x2="1158.9" y2="295.7" stroke="#ea3c3c" stroke-width="1.6"/>
<rect x="1157.37" y="296.3" width="3.1" height="29.6" fill="#000" stroke="#ea3c3c" stroke-width="1.4"/>
<line x1="1166.9" y1="289.9" x2="1166.9" y2="295.7" stroke="#ea3c3c" stroke-width="1.6"/>
<rect x="1165.38" y="296.3" width="3.1" height="3.0" fill="#000" stroke="#ea3c3c" stroke-width="1.4"/>
<line x1="1174.9" y1="294.1" x2="1174.9" y2="295.7" stroke="#ea3c3c" stroke-width="1.6"/>
<line x1="1174.9" y1="299.9" x2="1174.9" y2="300.7" stroke="#ea3c3c" stroke-width="1.6"/>
<rect x="1173.38" y="296.3" width="3.1" height="3.0" fill="#000" stroke="#ea3c3c" stroke-width="1.4"/>
<line x1="1182.9" y1="291.3" x2="1182.9" y2="304.1" stroke="#00f6f6" stroke-width="1.6"/>
<rect x="1180.6" y="291.3" width="4.6" height="2.8" fill="#00f6f6"/>
<line x1="1190.9" y1="283.3" x2="1190.9" y2="285.8" stroke="#ea3c3c" stroke-width="1.6"/>
<line x1="1190.9" y1="293.2" x2="1190.9" y2="296.6" stroke="#ea3c3c" stroke-width="1.6"/>
<rect x="1189.39" y="286.4" width="3.1" height="6.2" fill="#000" stroke="#ea3c3c" stroke-width="1.4"/>
<line x1="1198.9" y1="303.2" x2="1198.9" y2="307.4" stroke="#ea3c3c" stroke-width="1.6"/>
<line x1="1198.9" y1="315.7" x2="1198.9" y2="316.6" stroke="#ea3c3c" stroke-width="1.6"/>
<rect x="1197.40" y="308.0" width="3.1" height="7.1" fill="#000" stroke="#ea3c3c" stroke-width="1.4"/>
<line x1="1207.0" y1="272.9" x2="1207.0" y2="282.4" stroke="#ea3c3c" stroke-width="1.6"/>
<rect x="1205.40" y="283.0" width="3.1" height="13.8" fill="#000" stroke="#ea3c3c" stroke-width="1.4"/>
<line x1="1215.0" y1="279.9" x2="1215.0" y2="292.9" stroke="#00f6f6" stroke-width="1.6"/>
<rect x="1212.7" y="283.3" width="4.6" height="5.0" fill="#00f6f6"/>
<line x1="1223.0" y1="285.8" x2="1223.0" y2="297.4" stroke="#00f6f6" stroke-width="1.6"/>
<rect x="1220.7" y="286.0" width="4.6" height="2.0" fill="#00f6f6"/>
<line x1="1231.0" y1="274.1" x2="1231.0" y2="296.8" stroke="#00f6f6" stroke-width="1.6"/>
<rect x="1228.7" y="278.3" width="4.6" height="15.1" fill="#00f6f6"/>
<line x1="1239.0" y1="267" x2="1239.0" y2="268.4" stroke="#ea3c3c" stroke-width="1.6"/>
<rect x="1237.42" y="269.0" width="3.1" height="23.4" fill="#000" stroke="#ea3c3c" stroke-width="1.4"/>
<line x1="1247.0" y1="268.6" x2="1247.0" y2="274" stroke="#ea3c3c" stroke-width="1.6"/>
<rect x="1244.7" y="265.7" width="4.6" height="2.9" fill="#ea3c3c"/>
<rect x="1253.43" y="248.3" width="3.1" height="19.1" fill="#000" stroke="#ea3c3c" stroke-width="1.4"/>
<line x1="1263.0" y1="213.3" x2="1263.0" y2="231.6" stroke="#ea3c3c" stroke-width="1.6"/>
<rect x="1261.44" y="232.2" width="3.1" height="6.8" fill="#000" stroke="#ea3c3c" stroke-width="1.4"/>
<line x1="1271.0" y1="224.9" x2="1271.0" y2="232.4" stroke="#ea3c3c" stroke-width="1.6"/>
<rect x="1268.7" y="222.4" width="4.6" height="2.5" fill="#ea3c3c"/>
<line x1="1279.0" y1="209.1" x2="1279.0" y2="217.4" stroke="#ea3c3c" stroke-width="1.6"/>
<rect x="1276.7" y="205.8" width="4.6" height="3.3" fill="#ea3c3c"/>
<line x1="1287.0" y1="204.1" x2="1287.0" y2="217.4" stroke="#00f6f6" stroke-width="1.6"/>
<rect x="1284.7" y="204.1" width="4.6" height="4.2" fill="#00f6f6"/>
<line x1="1295.0" y1="202.4" x2="1295.0" y2="219.1" stroke="#00f6f6" stroke-width="1.6"/>
<rect x="1292.7" y="202.4" width="4.6" height="13.4" fill="#00f6f6"/>
<line x1="1303.0" y1="212.4" x2="1303.0" y2="219.1" stroke="#ea3c3c" stroke-width="1.6"/>
<rect x="1301.46" y="203.0" width="3.1" height="8.8" fill="#000" stroke="#ea3c3c" stroke-width="1.4"/>
<line x1="1311.0" y1="195" x2="1311.0" y2="208.3" stroke="#00f6f6" stroke-width="1.6"/>
<rect x="1308.7" y="195.0" width="4.6" height="7.4" fill="#00f6f6"/>
<line x1="1319.0" y1="206.9" x2="1319.0" y2="239.9" stroke="#00f6f6" stroke-width="1.6"/>
<rect x="1316.7" y="206.9" width="4.6" height="27.2" fill="#00f6f6"/>
<line x1="1327.0" y1="224.9" x2="1327.0" y2="230.7" stroke="#ea3c3c" stroke-width="1.6"/>
<rect x="1324.7" y="230.7" width="4.6" height="1.7" fill="#ea3c3c"/>
<line x1="1335.0" y1="221.6" x2="1335.0" y2="222.4" stroke="#ea3c3c" stroke-width="1.6"/>
<line x1="1335.0" y1="227.4" x2="1335.0" y2="236.6" stroke="#ea3c3c" stroke-width="1.6"/>
<rect x="1333.48" y="223.0" width="3.1" height="3.8" fill="#000" stroke="#ea3c3c" stroke-width="1.4"/>
<line x1="1343.0" y1="215.8" x2="1343.0" y2="217.4" stroke="#ea3c3c" stroke-width="1.6"/>
<line x1="1343.0" y1="220.8" x2="1343.0" y2="224.1" stroke="#ea3c3c" stroke-width="1.6"/>
<rect x="1340.7" y="217.4" width="4.6" height="3.4" fill="#ea3c3c"/>
<line x1="1351.0" y1="221.9" x2="1351.0" y2="246.2" stroke="#00f6f6" stroke-width="1.6"/>
<rect x="1348.7" y="221.9" width="4.6" height="13.3" fill="#00f6f6"/>
<line x1="1359.0" y1="220.3" x2="1359.0" y2="230.7" stroke="#ea3c3c" stroke-width="1.6"/>
<line x1="1359.0" y1="235.7" x2="1359.0" y2="238.6" stroke="#ea3c3c" stroke-width="1.6"/>
<rect x="1357.50" y="231.3" width="3.1" height="3.8" fill="#000" stroke="#ea3c3c" stroke-width="1.4"/>
<line x1="1367.1" y1="234.9" x2="1367.1" y2="249" stroke="#00f6f6" stroke-width="1.6"/>
<rect x="1364.8" y="234.9" width="4.6" height="14.1" fill="#00f6f6"/>
<line x1="1375.1" y1="238.2" x2="1375.1" y2="265.2" stroke="#00f6f6" stroke-width="1.6"/>
<rect x="1372.8" y="242.4" width="4.6" height="22.8" fill="#00f6f6"/>
<line x1="1383.1" y1="260.7" x2="1383.1" y2="264" stroke="#ea3c3c" stroke-width="1.6"/>
<line x1="1383.1" y1="267.4" x2="1383.1" y2="271.5" stroke="#ea3c3c" stroke-width="1.6"/>
<rect x="1380.8" y="264.0" width="4.6" height="3.4" fill="#ea3c3c"/>
<line x1="1391.1" y1="260.7" x2="1391.1" y2="280.2" stroke="#00f6f6" stroke-width="1.6"/>
<rect x="1388.8" y="267.4" width="4.6" height="12.8" fill="#00f6f6"/>
<line x1="1399.1" y1="264" x2="1399.1" y2="276.5" stroke="#ea3c3c" stroke-width="1.6"/>
<rect x="1397.52" y="277.1" width="3.1" height="3.8" fill="#000" stroke="#ea3c3c" stroke-width="1.4"/>
<line x1="1407.1" y1="284" x2="1407.1" y2="289.5" stroke="#ea3c3c" stroke-width="1.6"/>
<rect x="1405.53" y="269.1" width="3.1" height="14.3" fill="#000" stroke="#ea3c3c" stroke-width="1.4"/>
<line x1="1415.1" y1="253.2" x2="1415.1" y2="254.9" stroke="#ea3c3c" stroke-width="1.6"/>
<line x1="1415.1" y1="269" x2="1415.1" y2="273.2" stroke="#ea3c3c" stroke-width="1.6"/>
<rect x="1413.53" y="255.5" width="3.1" height="12.9" fill="#000" stroke="#ea3c3c" stroke-width="1.4"/>
<line x1="1423.1" y1="235.6" x2="1423.1" y2="238.6" stroke="#ea3c3c" stroke-width="1.6"/>
<line x1="1423.1" y1="252" x2="1423.1" y2="256.1" stroke="#ea3c3c" stroke-width="1.6"/>
<rect x="1421.54" y="239.2" width="3.1" height="12.2" fill="#000" stroke="#ea3c3c" stroke-width="1.4"/>
<line x1="1431.1" y1="206.9" x2="1431.1" y2="217.2" stroke="#ea3c3c" stroke-width="1.6"/>
<line x1="1431.1" y1="225.9" x2="1431.1" y2="227.9" stroke="#ea3c3c" stroke-width="1.6"/>
<rect x="1429.54" y="217.8" width="3.1" height="7.5" fill="#000" stroke="#ea3c3c" stroke-width="1.4"/>
<line x1="1439.1" y1="217.4" x2="1439.1" y2="229.3" stroke="#00f6f6" stroke-width="1.6"/>
<rect x="1436.8" y="217.4" width="4.6" height="9.6" fill="#00f6f6"/>
<path d="M429.9,40.3V46.6M429.3,40.9H435.6M429.6,43.9H434.2M431,42.2L452.4,49.8" stroke="#e8e8e8" stroke-width="1.3" fill="none"/>
<path d="M5.6,513.5H22.8" stroke="#e8e8e8" stroke-width="1.5" fill="none"/><path d="M4.6,513.4L9.4,509.8V517Z" fill="#f0f0f0"/>
<path transform="translate(22.5,461.8)" d="M-2.3,0.9H2.3V7.6H6.6L0,15.6L-6.6,7.6H-2.3Z" fill="none" stroke="#00d200" stroke-width="1.7" stroke-linejoin="miter"/>
<path transform="translate(47,445.8)" d="M-2.3,0.9H2.3V7.6H6.6L0,15.6L-6.6,7.6H-2.3Z" fill="none" stroke="#00d200" stroke-width="1.7" stroke-linejoin="miter"/>
<path transform="translate(87.3,449.8)" d="M-2.3,0.9H2.3V7.6H6.6L0,15.6L-6.6,7.6H-2.3Z" fill="none" stroke="#00d200" stroke-width="1.7" stroke-linejoin="miter"/>
<path transform="translate(270.4,156)" d="M-2.3,0.9H2.3V7.6H6.6L0,15.6L-6.6,7.6H-2.3Z" fill="none" stroke="#00d200" stroke-width="1.7" stroke-linejoin="miter"/>
<path transform="translate(334.8,138.3)" d="M-2.3,0.9H2.3V7.6H6.6L0,15.6L-6.6,7.6H-2.3Z" fill="none" stroke="#00d200" stroke-width="1.7" stroke-linejoin="miter"/>
<path transform="translate(351.4,135)" d="M-2.3,0.9H2.3V7.6H6.6L0,15.6L-6.6,7.6H-2.3Z" fill="none" stroke="#00d200" stroke-width="1.7" stroke-linejoin="miter"/>
<path transform="translate(847.9,200)" d="M-2.3,0.9H2.3V7.6H6.6L0,15.6L-6.6,7.6H-2.3Z" fill="none" stroke="#00d200" stroke-width="1.7" stroke-linejoin="miter"/>
<path transform="translate(896,181.7)" d="M-2.3,0.9H2.3V7.6H6.6L0,15.6L-6.6,7.6H-2.3Z" fill="none" stroke="#00d200" stroke-width="1.7" stroke-linejoin="miter"/>
<path transform="translate(1056.6,237)" d="M-2.3,0.9H2.3V7.6H6.6L0,15.6L-6.6,7.6H-2.3Z" fill="none" stroke="#00d200" stroke-width="1.7" stroke-linejoin="miter"/>
<path transform="translate(1200.6,282)" d="M-2.3,0.9H2.3V7.6H6.6L0,15.6L-6.6,7.6H-2.3Z" fill="none" stroke="#00d200" stroke-width="1.7" stroke-linejoin="miter"/>
<path transform="translate(1215.6,261.3)" d="M-2.3,0.9H2.3V7.6H6.6L0,15.6L-6.6,7.6H-2.3Z" fill="none" stroke="#00d200" stroke-width="1.7" stroke-linejoin="miter"/>
<path transform="translate(1304.1,181.3)" d="M-2.3,0.9H2.3V7.6H6.6L0,15.6L-6.6,7.6H-2.3Z" fill="none" stroke="#00d200" stroke-width="1.7" stroke-linejoin="miter"/>
<path transform="translate(1440.5,198.6)" d="M-2.3,0.9H2.3V7.6H6.6L0,15.6L-6.6,7.6H-2.3Z" fill="none" stroke="#00d200" stroke-width="1.7" stroke-linejoin="miter"/>
<path transform="translate(1255.8,165)" d="M-3.3,0H3.3V7.4H7.8L0,16.6L-7.8,7.4H-3.3Z" fill="#00f000"/>
<clipPath id="cp"><rect x="430" y="41.8" width="40" height="20"/></clipPath><g clip-path="url(#cp)"><path transform="translate(447.2,38.6)" d="M-2.3,0.9H2.3V7.6H6.6L0,15.6L-6.6,7.6H-2.3Z" fill="none" stroke="#00d200" stroke-width="1.7" stroke-linejoin="miter"/></g>
<path transform="translate(150.5,456)" d="M0,0L7.8,9H3.4V16.3H-3.4V9H-7.8Z" fill="#ff0000"/>
<path transform="translate(535.8,181)" d="M0,0L7.8,9H3.4V16.3H-3.4V9H-7.8Z" fill="#ff0000"/>
<path transform="translate(598.8,325.2)" d="M0,0L7.8,9H3.4V16.3H-3.4V9H-7.8Z" fill="#ff0000"/>
<path transform="translate(687.3,328.2)" d="M0,0L7.8,9H3.4V16.3H-3.4V9H-7.8Z" fill="#ff0000"/>
<path transform="translate(767.2,314.9)" d="M0,0L7.8,9H3.4V16.3H-3.4V9H-7.8Z" fill="#ff0000"/>
<path transform="translate(951.4,283.7)" d="M0,0L7.8,9H3.4V16.3H-3.4V9H-7.8Z" fill="#ff0000"/>
<path transform="translate(1016.3,282.2)" d="M0,0L7.8,9H3.4V16.3H-3.4V9H-7.8Z" fill="#ff0000"/>
<path transform="translate(1111.9,367.3)" d="M0,0L7.8,9H3.4V16.3H-3.4V9H-7.8Z" fill="#ff0000"/>
<path transform="translate(1351.8,289.5)" d="M0,0L7.8,9H3.4V16.3H-3.4V9H-7.8Z" fill="#ff0000"/>
<path transform="translate(1416.4,276.2)" d="M0,0L7.8,9H3.4V16.3H-3.4V9H-7.8Z" fill="#ff0000"/>
<line x1="2" y1="197.2" x2="1467" y2="197.2" stroke="#ecec00" stroke-width="1.7"/>
<line x1="2" y1="250.2" x2="1467" y2="250.2" stroke="#ecec00" stroke-width="1.7"/>
<line x1="2" y1="298" x2="1467" y2="298" stroke="#ecec00" stroke-width="1.7"/>
<line x1="2" y1="336.8" x2="1467" y2="336.8" stroke="#ecec00" stroke-width="1.7"/>
<line x1="2" y1="411.2" x2="1467" y2="411.2" stroke="#ecec00" stroke-width="1.7"/>
<line x1="2" y1="91.7" x2="1147" y2="521.7" stroke="#ecec00" stroke-width="1.55"/>
<line x1="476" y1="39.2" x2="1467" y2="411.3" stroke="#ecec00" stroke-width="1.55"/>
<line x1="1090" y1="39.3" x2="1467" y2="181" stroke="#ecec00" stroke-width="1.55"/>
<line x1="686" y1="522" x2="1467" y2="263.5" stroke="#ecec00" stroke-width="1.55"/>
<polyline fill="none" stroke="#e4e400" stroke-width="1.5" stroke-linejoin="round" points="5.0,488.2 33.3,487.4 73.2,485.2 113.2,483.2 126.5,479.0 149.8,469.9 166.4,461.6 188.0,453.2 203.0,439.9 233.0,412.5 244.0,399.8 264.8,378.2 276.5,369.8 294.8,354.0 308.1,346.5 318.1,336.5 338.0,319.9 353.0,308.2 374.7,298.2 403.0,279.8 429.7,253.2 465.0,227.5 500.0,202.5 520.0,193.2 528.3,189.1 543.3,186.9 561.6,187.4 569.9,190.8 586.6,198.2 619.9,211.6 633.2,214.1 653.2,222.4 686.4,234.9 716.4,241.6 741.4,248.6 758.1,254.1 771.4,254.1 780.0,254.9 805.0,260.7 826.6,259.9 836.6,256.6 854.9,252.9 879.9,249.1 899.8,245.7 918.2,245.7 939.8,247.4 963.1,251.2 988.1,251.6 1004.7,255.7 1029.7,256.6 1056.6,255.8 1093.2,268.3 1126.5,281.6 1156.5,289.1 1231.4,288.6 1245.0,286.0 1260.0,282.2 1273.3,277.6 1291.6,273.0 1309.9,268.2 1338.2,261.5 1356.5,259.9 1393.1,259.9 1399.8,261.5 1413.1,261.5 1439.4,257.6"/>
<polyline fill="none" stroke="#e0e0e0" stroke-width="1.45" stroke-linejoin="round" points="5.0,510.7 25.0,504.8 36.6,496.5 55.0,492.4 73.2,485.7 93.2,484.0 103.2,481.5 114.8,474.9 126.5,461.6 138.2,449.9 144.8,443.3 149.8,440.8 154.8,435.0 166.4,423.3 176.4,412.5 186.4,403.3 193.0,391.7 197.4,373.2 216.5,336.5 238.2,297.4 245.7,279.8 259.8,250.0 261.6,245.7 270.7,243.2 279.9,236.5 288.2,228.2 296.5,225.2 303.2,226.5 311.5,222.4 319.8,211.6 329.8,201.6 339.8,193.2 349.8,188.3 354.8,188.3 361.4,192.4 371.4,196.6 382.2,201.9 389.7,196.6 401.4,178.3 413.0,158.8 426.6,136.5 434.9,126.5 446.6,116.2 454.9,114.1 470.7,112.4 478.2,104.9 486.5,97.4 494.8,93.2 502.3,87.9 513.2,87.9 524.8,89.9 531.5,94.1 538.1,101.6 549.8,120.7 558.9,127.4 562.3,136.5 568.3,158.3 578.0,179.8 586.6,196.6 591.6,208.2 603.2,221.5 614.9,236.5 623.2,240.7 631.5,242.4 638.2,249.0 644.8,257.3 653.2,260.7 661.5,264.8 669.8,273.1 676.5,277.3 683.0,280.0 694.8,280.8 709.8,279.6 718.1,282.4 728.1,284.1 741.4,289.9 751.4,296.6 758.1,299.1 766.4,294.9 774.7,292.4 783.0,290.7 799.7,290.5 810.0,289.8 815.0,288.2 823.3,278.2 831.6,268.2 838.3,260.7 848.2,256.6 858.2,251.6 871.5,247.4 879.9,236.6 888.2,231.9 896.5,229.9 903.2,227.4 909.8,225.8 914.8,227.4 923.1,234.9 933.1,242.4 943.1,248.2 954.8,251.2 963.1,251.6 976.4,254.0 989.7,260.7 999.7,266.5 1006.4,269.0 1016.3,269.0 1023.3,268.0 1031.6,266.3 1043.3,263.3 1054.9,263.3 1066.6,269.1 1079.9,281.6 1088.2,294.9 1096.6,305.7 1109.9,318.2 1123.2,323.2 1134.8,329.0 1148.2,329.9 1151.5,330.7 1159.8,323.2 1176.4,314.9 1191.4,309.1 1199.7,308.2 1213.1,302.4 1231.4,298.4 1235.3,296.8 1247.7,289.7 1256.6,282.6 1259.2,279.1 1268.1,270.2 1280.0,257.8 1291.6,247.4 1309.9,233.2 1329.9,233.2 1339.9,229.9 1359.8,229.9 1366.5,232.4 1374.8,239.1 1389.8,246.6 1396.4,250.7 1404.8,255.2 1416.4,255.7 1423.1,252.4 1427.0,250.4 1434.7,246.6 1439.4,244.3"/>
<path d="M4.5,715.4V674.6H8.5V715.4" fill="none" stroke="#ea3c3c" stroke-width="1.4"/>
<path d="M12.5,715.4V677.5H16.5V715.4" fill="none" stroke="#ea3c3c" stroke-width="1.4"/>
<rect x="19.9" y="675.7" width="5.2" height="40.5" fill="#00f6f6"/>
<path d="M28.5,715.4V666.4H32.5V715.4" fill="none" stroke="#ea3c3c" stroke-width="1.4"/>
<path d="M36.5,715.4V674.6H40.5V715.4" fill="none" stroke="#ea3c3c" stroke-width="1.4"/>
<rect x="43.9" y="674.0" width="5.2" height="42.2" fill="#00f6f6"/>
<path d="M52.5,715.4V682.1H56.5V715.4" fill="none" stroke="#ea3c3c" stroke-width="1.4"/>
<path d="M60.5,715.4V675.5H64.5V715.4" fill="none" stroke="#ea3c3c" stroke-width="1.4"/>
<path d="M68.5,715.4V674.6H72.5V715.4" fill="none" stroke="#ea3c3c" stroke-width="1.4"/>
<rect x="75.9" y="677.4" width="5.2" height="38.8" fill="#00f6f6"/>
<path d="M84.6,715.4V677.5H88.6V715.4" fill="none" stroke="#ea3c3c" stroke-width="1.4"/>
<rect x="92.0" y="682.3" width="5.2" height="33.9" fill="#00f6f6"/>
<path d="M100.6,715.4V678.0H104.6V715.4" fill="none" stroke="#ea3c3c" stroke-width="1.4"/>
<path d="M108.6,715.4V681.9H112.6V715.4" fill="none" stroke="#ea3c3c" stroke-width="1.4"/>
<path d="M116.6,715.4V675.5H120.6V715.4" fill="none" stroke="#ea3c3c" stroke-width="1.4"/>
<path d="M124.6,715.4V668.0H128.6V715.4" fill="none" stroke="#ea3c3c" stroke-width="1.4"/>
<path d="M132.6,715.4V653.0H136.6V715.4" fill="none" stroke="#ea3c3c" stroke-width="1.4"/>
<path d="M140.6,715.4V665.1H144.6V715.4" fill="none" stroke="#ea3c3c" stroke-width="1.4"/>
<rect x="148.0" y="664.9" width="5.2" height="51.3" fill="#00f6f6"/>
<path d="M156.6,715.4V650.2H160.6V715.4" fill="none" stroke="#ea3c3c" stroke-width="1.4"/>
<rect x="164.0" y="641.9" width="5.2" height="74.3" fill="#00f6f6"/>
<path d="M172.6,715.4V653.5H176.6V715.4" fill="none" stroke="#ea3c3c" stroke-width="1.4"/>
<rect x="180.0" y="638.7" width="5.2" height="77.5" fill="#00f6f6"/>
<path d="M188.6,715.4V639.4H192.6V715.4" fill="none" stroke="#ea3c3c" stroke-width="1.4"/>
<path d="M196.6,715.4V584.2H200.6V715.4" fill="none" stroke="#ea3c3c" stroke-width="1.4"/>
<rect x="204.0" y="574.5" width="5.2" height="141.7" fill="#00f6f6"/>
<path d="M212.6,715.4V597.8H216.6V715.4" fill="none" stroke="#ea3c3c" stroke-width="1.4"/>
<rect x="220.0" y="627.4" width="5.2" height="88.8" fill="#00f6f6"/>
<path d="M228.6,715.4V628.9H232.6V715.4" fill="none" stroke="#ea3c3c" stroke-width="1.4"/>
<path d="M236.6,715.4V584.2H240.6V715.4" fill="none" stroke="#ea3c3c" stroke-width="1.4"/>
<path d="M244.7,715.4V609.8H248.7V715.4" fill="none" stroke="#ea3c3c" stroke-width="1.4"/>
<path d="M252.7,715.4V578.1H256.7V715.4" fill="none" stroke="#ea3c3c" stroke-width="1.4"/>
<path d="M260.7,715.4V570.6H264.7V715.4" fill="none" stroke="#ea3c3c" stroke-width="1.4"/>
<rect x="268.1" y="571.7" width="5.2" height="144.5" fill="#00f6f6"/>
<path d="M276.7,715.4V609.8H280.7V715.4" fill="none" stroke="#ea3c3c" stroke-width="1.4"/>
<path d="M284.7,715.4V588.6H288.7V715.4" fill="none" stroke="#ea3c3c" stroke-width="1.4"/>
<rect x="292.1" y="601.6" width="5.2" height="114.6" fill="#00f6f6"/>
<rect x="300.1" y="621.3" width="5.2" height="94.9" fill="#00f6f6"/>
<path d="M308.7,715.4V630.9H312.7V715.4" fill="none" stroke="#ea3c3c" stroke-width="1.4"/>
<path d="M316.7,715.4V615.5H320.7V715.4" fill="none" stroke="#ea3c3c" stroke-width="1.4"/>
<rect x="324.1" y="626.9" width="5.2" height="89.3" fill="#00f6f6"/>
<path d="M332.7,715.4V626.4H336.7V715.4" fill="none" stroke="#ea3c3c" stroke-width="1.4"/>
<path d="M340.7,715.4V612.8H344.7V715.4" fill="none" stroke="#ea3c3c" stroke-width="1.4"/>
<path d="M348.7,715.4V624.8H352.7V715.4" fill="none" stroke="#ea3c3c" stroke-width="1.4"/>
<rect x="356.1" y="619.6" width="5.2" height="96.6" fill="#00f6f6"/>
<rect x="364.1" y="626.9" width="5.2" height="89.3" fill="#00f6f6"/>
<path d="M372.7,715.4V642.5H376.7V715.4" fill="none" stroke="#ea3c3c" stroke-width="1.4"/>
<rect x="380.1" y="641.9" width="5.2" height="74.3" fill="#00f6f6"/>
<path d="M388.7,715.4V621.9H392.7V715.4" fill="none" stroke="#ea3c3c" stroke-width="1.4"/>
<path d="M396.7,715.4V599.2H400.7V715.4" fill="none" stroke="#ea3c3c" stroke-width="1.4"/>
<rect x="404.2" y="603.3" width="5.2" height="112.9" fill="#00f6f6"/>
<path d="M412.8,715.4V608.0H416.8V715.4" fill="none" stroke="#ea3c3c" stroke-width="1.4"/>
<path d="M420.8,715.4V599.2H424.8V715.4" fill="none" stroke="#ea3c3c" stroke-width="1.4"/>
<rect x="428.2" y="589.6" width="5.2" height="126.6" fill="#00f6f6"/>
<rect x="436.2" y="624.1" width="5.2" height="92.1" fill="#00f6f6"/>
<path d="M444.8,715.4V620.2H448.8V715.4" fill="none" stroke="#ea3c3c" stroke-width="1.4"/>
<rect x="452.2" y="626.9" width="5.2" height="89.3" fill="#00f6f6"/>
<path d="M460.8,715.4V642.5H464.8V715.4" fill="none" stroke="#ea3c3c" stroke-width="1.4"/>
<rect x="468.2" y="627.4" width="5.2" height="88.8" fill="#00f6f6"/>
<path d="M476.8,715.4V626.4H480.8V715.4" fill="none" stroke="#ea3c3c" stroke-width="1.4"/>
<path d="M484.8,715.4V626.4H488.8V715.4" fill="none" stroke="#ea3c3c" stroke-width="1.4"/>
<rect x="492.2" y="632.9" width="5.2" height="83.3" fill="#00f6f6"/>
<path d="M500.8,715.4V636.9H504.8V715.4" fill="none" stroke="#ea3c3c" stroke-width="1.4"/>
<rect x="508.2" y="627.4" width="5.2" height="88.8" fill="#00f6f6"/>
<rect x="516.2" y="632.4" width="5.2" height="83.8" fill="#00f6f6"/>
<rect x="524.2" y="644.9" width="5.2" height="71.3" fill="#00f6f6"/>
<rect x="532.2" y="634.9" width="5.2" height="81.3" fill="#00f6f6"/>
<rect x="540.2" y="643.2" width="5.2" height="73.0" fill="#00f6f6"/>
<rect x="548.2" y="641.9" width="5.2" height="74.3" fill="#00f6f6"/>
<path d="M556.8,715.4V659.6H560.8V715.4" fill="none" stroke="#ea3c3c" stroke-width="1.4"/>
<rect x="564.2" y="632.9" width="5.2" height="83.3" fill="#00f6f6"/>
<path d="M572.9,715.4V651.9H576.9V715.4" fill="none" stroke="#ea3c3c" stroke-width="1.4"/>
<path d="M580.9,715.4V656.4H584.9V715.4" fill="none" stroke="#ea3c3c" stroke-width="1.4"/>
<rect x="588.3" y="664.5" width="5.2" height="51.7" fill="#00f6f6"/>
<path d="M596.9,715.4V644.2H600.9V715.4" fill="none" stroke="#ea3c3c" stroke-width="1.4"/>
<rect x="604.3" y="661.5" width="5.2" height="54.7" fill="#00f6f6"/>
<path d="M612.9,715.4V662.1H616.9V715.4" fill="none" stroke="#ea3c3c" stroke-width="1.4"/>
<path d="M620.9,715.4V658.9H624.9V715.4" fill="none" stroke="#ea3c3c" stroke-width="1.4"/>
<path d="M628.9,715.4V653.4H632.9V715.4" fill="none" stroke="#ea3c3c" stroke-width="1.4"/>
<rect x="636.3" y="648.2" width="5.2" height="68.0" fill="#00f6f6"/>
<rect x="644.3" y="661.5" width="5.2" height="54.7" fill="#00f6f6"/>
<path d="M652.9,715.4V662.1H656.9V715.4" fill="none" stroke="#ea3c3c" stroke-width="1.4"/>
<rect x="660.3" y="664.5" width="5.2" height="51.7" fill="#00f6f6"/>
<rect x="668.3" y="664.5" width="5.2" height="51.7" fill="#00f6f6"/>
<path d="M676.9,715.4V673.0H680.9V715.4" fill="none" stroke="#ea3c3c" stroke-width="1.4"/>
<path d="M684.9,715.4V666.4H688.9V715.4" fill="none" stroke="#ea3c3c" stroke-width="1.4"/>
<path d="M692.9,715.4V659.1H696.9V715.4" fill="none" stroke="#ea3c3c" stroke-width="1.4"/>
<path d="M700.9,715.4V665.5H704.9V715.4" fill="none" stroke="#ea3c3c" stroke-width="1.4"/>
<path d="M708.9,715.4V663.9H712.9V715.4" fill="none" stroke="#ea3c3c" stroke-width="1.4"/>
<rect x="716.3" y="664.5" width="5.2" height="51.7" fill="#00f6f6"/>
<rect x="724.4" y="660.2" width="5.2" height="56.0" fill="#00f6f6"/>
<rect x="732.4" y="664.5" width="5.2" height="51.7" fill="#00f6f6"/>
<rect x="740.4" y="669.0" width="5.2" height="47.2" fill="#00f6f6"/>
<rect x="748.4" y="669.0" width="5.2" height="47.2" fill="#00f6f6"/>
<path d="M757.0,715.4V673.0H761.0V715.4" fill="none" stroke="#ea3c3c" stroke-width="1.4"/>
<path d="M765.0,715.4V650.5H769.0V715.4" fill="none" stroke="#ea3c3c" stroke-width="1.4"/>
<rect x="772.4" y="654.0" width="5.2" height="62.2" fill="#00f6f6"/>
<path d="M781.0,715.4V661.4H785.0V715.4" fill="none" stroke="#ea3c3c" stroke-width="1.4"/>
<rect x="788.4" y="659.0" width="5.2" height="57.2" fill="#00f6f6"/>
<path d="M797.0,715.4V675.9H801.0V715.4" fill="none" stroke="#ea3c3c" stroke-width="1.4"/>
<rect x="804.4" y="676.5" width="5.2" height="39.7" fill="#00f6f6"/>
<rect x="812.4" y="656.9" width="5.2" height="59.3" fill="#00f6f6"/>
<path d="M821.0,715.4V643.0H825.0V715.4" fill="none" stroke="#ea3c3c" stroke-width="1.4"/>
<path d="M829.0,715.4V643.0H833.0V715.4" fill="none" stroke="#ea3c3c" stroke-width="1.4"/>
<path d="M837.0,715.4V662.1H841.0V715.4" fill="none" stroke="#ea3c3c" stroke-width="1.4"/>
<rect x="844.4" y="651.2" width="5.2" height="65.0" fill="#00f6f6"/>
<path d="M853.0,715.4V671.4H857.0V715.4" fill="none" stroke="#ea3c3c" stroke-width="1.4"/>
<path d="M861.0,715.4V665.5H865.0V715.4" fill="none" stroke="#ea3c3c" stroke-width="1.4"/>
<rect x="868.4" y="669.0" width="5.2" height="47.2" fill="#00f6f6"/>
<path d="M877.0,715.4V651.9H881.0V715.4" fill="none" stroke="#ea3c3c" stroke-width="1.4"/>
<path d="M885.1,715.4V660.9H889.1V715.4" fill="none" stroke="#ea3c3c" stroke-width="1.4"/>
<rect x="892.5" y="663.2" width="5.2" height="53.0" fill="#00f6f6"/>
<rect x="900.5" y="664.5" width="5.2" height="51.7" fill="#00f6f6"/>
<path d="M909.1,715.4V675.9H913.1V715.4" fill="none" stroke="#ea3c3c" stroke-width="1.4"/>
<rect x="916.5" y="661.5" width="5.2" height="54.7" fill="#00f6f6"/>
<rect x="924.5" y="676.5" width="5.2" height="39.7" fill="#00f6f6"/>
<rect x="932.5" y="679.5" width="5.2" height="36.7" fill="#00f6f6"/>
<rect x="940.5" y="678.2" width="5.2" height="38.0" fill="#00f6f6"/>
<path d="M949.1,715.4V680.4H953.1V715.4" fill="none" stroke="#ea3c3c" stroke-width="1.4"/>
<path d="M957.1,715.4V673.0H961.1V715.4" fill="none" stroke="#ea3c3c" stroke-width="1.4"/>
<rect x="964.5" y="681.2" width="5.2" height="35.0" fill="#00f6f6"/>
<rect x="972.5" y="678.2" width="5.2" height="38.0" fill="#00f6f6"/>
<rect x="980.5" y="677.4" width="5.2" height="38.8" fill="#00f6f6"/>
<path d="M989.1,715.4V678.5H993.1V715.4" fill="none" stroke="#ea3c3c" stroke-width="1.4"/>
<rect x="996.5" y="669.0" width="5.2" height="47.2" fill="#00f6f6"/>
<path d="M1005.1,715.4V681.9H1009.1V715.4" fill="none" stroke="#ea3c3c" stroke-width="1.4"/>
<path d="M1013.1,715.4V677.5H1017.1V715.4" fill="none" stroke="#ea3c3c" stroke-width="1.4"/>
<path d="M1021.1,715.4V677.5H1025.1V715.4" fill="none" stroke="#ea3c3c" stroke-width="1.4"/>
<path d="M1029.1,715.4V678.9H1033.1V715.4" fill="none" stroke="#ea3c3c" stroke-width="1.4"/>
<rect x="1036.5" y="681.2" width="5.2" height="35.0" fill="#00f6f6"/>
<path d="M1045.2,715.4V680.1H1049.2V715.4" fill="none" stroke="#ea3c3c" stroke-width="1.4"/>
<rect x="1052.6" y="679.0" width="5.2" height="37.2" fill="#00f6f6"/>
<rect x="1060.6" y="679.0" width="5.2" height="37.2" fill="#00f6f6"/>
<path d="M1069.2,715.4V668.4H1073.2V715.4" fill="none" stroke="#ea3c3c" stroke-width="1.4"/>
<rect x="1076.6" y="672.4" width="5.2" height="43.8" fill="#00f6f6"/>
<path d="M1085.2,715.4V656.4H1089.2V715.4" fill="none" stroke="#ea3c3c" stroke-width="1.4"/>
<rect x="1092.6" y="674.9" width="5.2" height="41.3" fill="#00f6f6"/>
<path d="M1101.2,715.4V677.1H1105.2V715.4" fill="none" stroke="#ea3c3c" stroke-width="1.4"/>
<rect x="1108.6" y="676.5" width="5.2" height="39.7" fill="#00f6f6"/>
<path d="M1117.2,715.4V681.9H1121.2V715.4" fill="none" stroke="#ea3c3c" stroke-width="1.4"/>
<rect x="1124.6" y="681.2" width="5.2" height="35.0" fill="#00f6f6"/>
<rect x="1132.6" y="679.5" width="5.2" height="36.7" fill="#00f6f6"/>
<path d="M1141.2,715.4V675.5H1145.2V715.4" fill="none" stroke="#ea3c3c" stroke-width="1.4"/>
<path d="M1149.2,715.4V677.1H1153.2V715.4" fill="none" stroke="#ea3c3c" stroke-width="1.4"/>
<path d="M1157.2,715.4V660.9H1161.2V715.4" fill="none" stroke="#ea3c3c" stroke-width="1.4"/>
<path d="M1165.2,715.4V666.9H1169.2V715.4" fill="none" stroke="#ea3c3c" stroke-width="1.4"/>
<path d="M1173.2,715.4V674.6H1177.2V715.4" fill="none" stroke="#ea3c3c" stroke-width="1.4"/>
<rect x="1180.6" y="676.2" width="5.2" height="40.0" fill="#00f6f6"/>
<path d="M1189.2,715.4V675.5H1193.2V715.4" fill="none" stroke="#ea3c3c" stroke-width="1.4"/>
<path d="M1197.2,715.4V671.4H1201.2V715.4" fill="none" stroke="#ea3c3c" stroke-width="1.4"/>
<path d="M1205.3,715.4V662.1H1209.3V715.4" fill="none" stroke="#ea3c3c" stroke-width="1.4"/>
<rect x="1212.7" y="667.7" width="5.2" height="48.5" fill="#00f6f6"/>
<rect x="1220.7" y="670.7" width="5.2" height="45.5" fill="#00f6f6"/>
<rect x="1228.7" y="666.2" width="5.2" height="50.0" fill="#00f6f6"/>
<path d="M1237.3,715.4V663.9H1241.3V715.4" fill="none" stroke="#ea3c3c" stroke-width="1.4"/>
<path d="M1245.3,715.4V666.9H1249.3V715.4" fill="none" stroke="#ea3c3c" stroke-width="1.4"/>
<path d="M1253.3,715.4V658.0H1257.3V715.4" fill="none" stroke="#ea3c3c" stroke-width="1.4"/>
<path d="M1261.3,715.4V638.4H1265.3V715.4" fill="none" stroke="#ea3c3c" stroke-width="1.4"/>
<path d="M1269.3,715.4V661.4H1273.3V715.4" fill="none" stroke="#ea3c3c" stroke-width="1.4"/>
<path d="M1277.3,715.4V653.4H1281.3V715.4" fill="none" stroke="#ea3c3c" stroke-width="1.4"/>
<rect x="1284.7" y="654.0" width="5.2" height="62.2" fill="#00f6f6"/>
<rect x="1292.7" y="657.4" width="5.2" height="58.8" fill="#00f6f6"/>
<path d="M1301.3,715.4V665.5H1305.3V715.4" fill="none" stroke="#ea3c3c" stroke-width="1.4"/>
<rect x="1308.7" y="657.4" width="5.2" height="58.8" fill="#00f6f6"/>
<rect x="1316.7" y="659.0" width="5.2" height="57.2" fill="#00f6f6"/>
<path d="M1325.3,715.4V673.0H1329.3V715.4" fill="none" stroke="#ea3c3c" stroke-width="1.4"/>
<path d="M1333.3,715.4V674.6H1337.3V715.4" fill="none" stroke="#ea3c3c" stroke-width="1.4"/>
<path d="M1341.3,715.4V668.4H1345.3V715.4" fill="none" stroke="#ea3c3c" stroke-width="1.4"/>
<rect x="1348.7" y="671.5" width="5.2" height="44.7" fill="#00f6f6"/>
<path d="M1357.3,715.4V673.0H1361.3V715.4" fill="none" stroke="#ea3c3c" stroke-width="1.4"/>
<rect x="1364.8" y="673.2" width="5.2" height="43.0" fill="#00f6f6"/>
<rect x="1372.8" y="666.2" width="5.2" height="50.0" fill="#00f6f6"/>
<path d="M1381.4,715.4V680.4H1385.4V715.4" fill="none" stroke="#ea3c3c" stroke-width="1.4"/>
<rect x="1388.8" y="684.0" width="5.2" height="32.2" fill="#00f6f6"/>
<path d="M1397.4,715.4V683.4H1401.4V715.4" fill="none" stroke="#ea3c3c" stroke-width="1.4"/>
<path d="M1405.4,715.4V681.9H1409.4V715.4" fill="none" stroke="#ea3c3c" stroke-width="1.4"/>
<path d="M1413.4,715.4V680.4H1417.4V715.4" fill="none" stroke="#ea3c3c" stroke-width="1.4"/>
<path d="M1421.4,715.4V674.6H1425.4V715.4" fill="none" stroke="#ea3c3c" stroke-width="1.4"/>
<path d="M1429.4,715.4V662.1H1433.4V715.4" fill="none" stroke="#ea3c3c" stroke-width="1.4"/>
<rect x="1436.8" y="675.2" width="5.2" height="41.0" fill="#00f6f6"/>
<polyline fill="none" stroke="#e0e0e0" stroke-width="1.4" stroke-linejoin="round" points="6.2,674.0 14.2,674.6 22.2,674.9 30.2,673.3 38.2,673.3 46.2,673.3 54.2,674.2 62.2,674.0 70.2,675.7 78.2,676.4 86.3,676.9 94.3,677.1 102.3,677.6 110.3,679.0 118.3,678.5 126.3,676.6 134.3,670.7 142.3,668.1 150.3,664.8 158.3,659.8 166.3,654.7 174.3,654.8 182.3,649.6 190.3,644.4 198.3,631.2 206.3,617.7 214.3,606.5 222.3,604.3 230.3,602.2 238.3,602.2 246.4,609.1 254.4,605.2 262.4,593.7 270.4,582.4 278.4,587.5 286.4,583.3 294.4,588.1 302.4,598.3 310.4,610.0 318.4,611.2 326.4,619.0 334.4,623.8 342.4,622.0 350.4,620.8 358.4,621.7 366.4,621.7 374.4,624.9 382.4,630.9 390.4,630.3 398.4,626.1 406.5,621.4 414.5,614.5 422.5,605.8 430.5,599.5 438.5,604.6 446.5,607.9 454.5,611.8 462.5,620.4 470.5,628.0 478.5,628.3 486.5,629.6 494.5,630.8 502.5,629.6 510.5,629.6 518.5,630.9 526.5,634.8 534.5,635.2 542.5,636.6 550.5,639.5 558.5,644.8 566.6,642.4 574.6,645.6 582.6,648.1 590.6,652.7 598.6,649.6 606.6,655.3 614.6,657.4 622.6,657.9 630.6,655.5 638.6,656.4 646.6,656.4 654.6,656.4 662.6,657.7 670.6,660.0 678.6,664.9 686.6,665.7 694.6,665.1 702.6,665.2 710.6,664.9 718.6,663.4 726.7,662.3 734.7,663.5 742.7,664.3 750.7,665.4 758.7,667.0 766.7,665.0 774.7,662.9 782.7,661.2 790.7,659.2 798.7,659.8 806.7,665.1 814.7,665.7 822.7,662.0 830.7,658.7 838.7,655.9 846.7,650.9 854.7,653.6 862.7,658.1 870.7,663.5 878.7,661.4 886.8,663.2 894.8,661.7 902.8,661.6 910.8,662.9 918.8,664.9 926.8,668.2 934.8,671.4 942.8,674.2 950.8,675.1 958.8,677.3 966.8,678.2 974.8,678.0 982.8,677.8 990.8,677.4 998.8,676.7 1006.8,676.7 1014.8,676.5 1022.8,676.4 1030.8,676.4 1038.8,678.9 1046.9,678.5 1054.9,679.0 1062.9,679.4 1070.9,677.3 1078.9,675.5 1086.9,670.8 1094.9,669.9 1102.9,669.4 1110.9,671.2 1118.9,673.0 1126.9,678.1 1134.9,679.0 1142.9,678.7 1150.9,678.7 1158.9,674.5 1166.9,671.5 1174.9,670.4 1182.9,670.6 1190.9,670.3 1198.9,672.4 1207.0,671.5 1215.0,670.2 1223.0,669.1 1231.0,667.4 1239.0,665.9 1247.0,666.8 1255.0,664.7 1263.0,658.1 1271.0,657.0 1279.0,654.9 1287.0,652.5 1295.0,652.5 1303.0,657.9 1311.0,657.3 1319.0,658.5 1327.0,662.2 1335.0,665.5 1343.0,666.1 1351.0,668.9 1359.0,671.6 1367.1,671.8 1375.1,670.2 1383.1,672.6 1391.1,675.1 1399.1,677.2 1407.1,678.8 1415.1,681.5 1423.1,680.4 1431.1,675.9 1439.1,674.3"/>
<polyline fill="none" stroke="#e4e400" stroke-width="1.5" stroke-linejoin="round" points="6.2,674.0 14.2,674.3 22.2,674.5 30.2,673.6 38.2,673.6 46.2,673.6 54.2,674.4 62.2,674.5 70.2,674.5 78.2,674.8 86.3,675.1 94.3,675.6 102.3,675.8 110.3,677.4 118.3,677.5 126.3,676.8 134.3,673.9 142.3,672.8 150.3,671.9 158.3,669.1 166.3,665.6 174.3,662.7 182.3,658.8 190.3,654.6 198.3,645.5 206.3,636.2 214.3,630.6 222.3,626.9 230.3,623.3 238.3,616.7 246.4,613.4 254.4,605.8 262.4,599.0 270.4,592.3 278.4,594.8 286.4,596.2 294.4,596.6 302.4,596.0 310.4,596.2 318.4,599.3 326.4,601.1 334.4,606.0 342.4,610.2 350.4,615.4 358.4,616.5 366.4,620.3 374.4,624.4 382.4,626.4 390.4,625.5 398.4,623.9 406.5,621.5 414.5,619.7 422.5,618.4 430.5,614.9 438.5,615.4 446.5,614.6 454.5,613.1 462.5,613.1 470.5,613.7 478.5,616.5 486.5,618.7 494.5,621.3 502.5,625.0 510.5,628.8 518.5,629.6 526.5,632.2 534.5,633.0 542.5,633.1 550.5,634.5 558.5,637.9 566.6,638.6 574.6,640.4 582.6,642.4 590.6,646.1 598.6,647.2 606.6,648.8 614.6,651.5 622.6,653.0 630.6,654.1 638.6,653.0 646.6,655.9 654.6,656.9 662.6,657.8 670.6,657.8 678.6,660.6 686.6,661.1 694.6,660.8 702.6,661.4 710.6,662.5 718.6,664.1 726.7,664.0 734.7,664.3 742.7,664.7 750.7,665.2 758.7,665.2 766.7,663.6 774.7,663.2 782.7,662.7 790.7,662.3 798.7,663.4 806.7,665.0 814.7,664.3 822.7,661.6 830.7,658.9 838.7,657.9 846.7,658.0 854.7,659.6 862.7,660.1 870.7,661.1 878.7,658.7 886.8,657.0 894.8,657.7 902.8,659.9 910.8,663.2 918.8,663.2 926.8,665.7 934.8,666.6 942.8,667.9 950.8,669.0 958.8,671.1 966.8,673.2 974.8,674.7 982.8,676.0 990.8,676.3 998.8,677.0 1006.8,677.5 1014.8,677.2 1022.8,677.1 1030.8,676.9 1038.8,677.8 1046.9,677.6 1054.9,677.7 1062.9,677.9 1070.9,676.9 1078.9,677.2 1086.9,674.6 1094.9,674.5 1102.9,674.4 1110.9,674.2 1118.9,674.2 1126.9,674.4 1134.9,674.5 1142.9,674.0 1150.9,674.9 1158.9,673.7 1166.9,674.8 1174.9,674.7 1182.9,674.6 1190.9,674.5 1198.9,673.4 1207.0,671.5 1215.0,670.3 1223.0,669.9 1231.0,668.8 1239.0,669.1 1247.0,669.1 1255.0,667.5 1263.0,663.6 1271.0,662.2 1279.0,660.4 1287.0,659.7 1295.0,658.6 1303.0,658.0 1311.0,657.2 1319.0,656.7 1327.0,657.4 1335.0,659.0 1343.0,662.0 1351.0,663.1 1359.0,665.1 1367.1,667.0 1375.1,667.9 1383.1,669.4 1391.1,672.0 1399.1,674.4 1407.1,675.3 1415.1,675.9 1423.1,676.5 1431.1,675.5 1439.1,675.8"/>
<polyline fill="none" stroke="#e0e0e0" stroke-width="1.35" stroke-linejoin="round" points="6.2,782.6 14.2,776.2 22.2,782.9 30.2,777.6 38.2,776.2 46.2,786.5 54.2,793.6 62.2,795.1 70.2,790.3 78.2,797.6 86.3,803.3 94.3,818.1 102.3,823.2 110.3,808.8 118.3,793.0 126.3,782.4 134.3,775.9 142.3,772.8 150.3,778.3 158.3,772.6 166.3,773.4 174.3,772.2 182.3,777.4 190.3,772.0 198.3,768.5 206.3,772.4 214.3,773.8 222.3,776.3 230.3,771.8 238.3,774.7 246.4,773.8 254.4,769.7 262.4,769.6 270.4,795.3 278.4,802.4 286.4,801.5 294.4,806.9 302.4,822.4 310.4,825.8 318.4,811.3 326.4,802.8 334.4,794.3 342.4,787.4 350.4,781.8 358.4,793.3 366.4,812.5 374.4,821.9 382.4,836.3 390.4,818.8 398.4,800.4 406.5,790.2 414.5,780.6 422.5,774.7 430.5,775.6 438.5,777.0 446.5,777.6 454.5,784.7 462.5,797.2 470.5,815.7 478.5,807.0 486.5,798.8 494.5,796.9 502.5,786.7 510.5,796.8 518.5,808.2 526.5,815.1 534.5,833.2 542.5,845.9 550.5,852.5 558.5,854.1 566.6,857.3 574.6,857.5 582.6,859.5 590.6,862.6 598.6,855.1 606.6,852.4 614.6,852.5 622.6,843.7 630.6,824.0 638.6,826.3 646.6,830.7 654.6,823.1 662.6,823.1 670.6,834.8 678.6,842.3 686.6,833.5 694.6,822.8 702.6,814.3 710.6,806.6 718.6,804.1 726.7,805.2 734.7,816.3 742.7,823.8 750.7,837.8 758.7,839.2 766.7,815.8 774.7,802.9 782.7,794.3 790.7,797.9 798.7,798.7 806.7,799.3 814.7,796.5 822.7,786.5 830.7,780.2 838.7,774.6 846.7,777.8 854.7,781.8 862.7,778.7 870.7,781.1 878.7,774.5 886.8,770.1 894.8,778.0 902.8,788.2 910.8,792.1 918.8,814.2 926.8,829.2 934.8,841.1 942.8,848.5 950.8,849.6 958.8,844.0 966.8,840.8 974.8,838.6 982.8,846.4 990.8,835.6 998.8,843.6 1006.8,841.9 1014.8,829.5 1022.8,815.0 1030.8,799.0 1038.8,790.6 1046.9,785.1 1054.9,790.5 1062.9,804.4 1070.9,822.4 1078.9,838.7 1086.9,842.6 1094.9,846.7 1102.9,845.1 1110.9,847.2 1118.9,841.3 1126.9,840.0 1134.9,829.8 1142.9,821.1 1150.9,806.3 1158.9,792.0 1166.9,784.4 1174.9,779.2 1182.9,775.1 1190.9,771.5 1198.9,778.0 1207.0,775.9 1215.0,779.6 1223.0,783.9 1231.0,793.5 1239.0,783.8 1247.0,776.3 1255.0,771.3 1263.0,774.5 1271.0,774.0 1279.0,769.8 1287.0,768.6 1295.0,771.4 1303.0,768.0 1311.0,769.2 1319.0,786.2 1327.0,807.1 1335.0,814.2 1343.0,814.8 1351.0,825.8 1359.0,829.9 1367.1,843.7 1375.1,852.9 1383.1,854.8 1391.1,860.3 1399.1,861.2 1407.1,854.1 1415.1,841.5 1423.1,824.5 1431.1,808.0 1439.1,801.3"/>
<polyline fill="none" stroke="#e4e400" stroke-width="1.4" stroke-linejoin="round" points="6.2,791.5 14.2,787.4 22.2,785.1 30.2,782.1 38.2,780.6 46.2,782.6 54.2,786.5 62.2,789.5 70.2,789.5 78.2,792.0 86.3,795.5 94.3,803.0 102.3,809.7 110.3,809.4 118.3,803.9 126.3,796.8 134.3,789.8 142.3,784.1 150.3,782.2 158.3,779.0 166.3,777.1 174.3,775.5 182.3,776.1 190.3,774.8 198.3,772.7 206.3,772.6 214.3,773.0 222.3,774.1 230.3,773.3 238.3,773.8 246.4,773.8 254.4,772.4 262.4,771.5 270.4,779.4 278.4,787.1 286.4,791.9 294.4,796.9 302.4,805.4 310.4,812.2 318.4,811.9 326.4,808.9 334.4,804.0 342.4,798.5 350.4,792.9 358.4,793.0 366.4,799.5 374.4,807.0 382.4,816.8 390.4,817.5 398.4,811.8 406.5,804.6 414.5,796.6 422.5,789.3 430.5,784.7 438.5,782.2 446.5,780.6 454.5,782.0 462.5,787.1 470.5,796.6 478.5,800.1 486.5,799.6 494.5,798.7 502.5,794.7 510.5,795.4 518.5,799.7 526.5,804.8 534.5,814.3 542.5,824.8 550.5,834.0 558.5,840.7 566.6,846.2 574.6,850.0 582.6,853.2 590.6,856.3 598.6,855.9 606.6,854.8 614.6,854.0 622.6,850.6 630.6,841.7 638.6,836.6 646.6,834.6 654.6,830.8 662.6,828.2 670.6,830.4 678.6,834.4 686.6,834.1 694.6,830.3 702.6,825.0 710.6,818.9 718.6,813.9 726.7,811.0 734.7,812.8 742.7,816.4 750.7,823.6 758.7,828.8 766.7,824.4 774.7,817.3 782.7,809.6 790.7,805.7 798.7,803.4 806.7,802.0 814.7,800.2 822.7,795.6 830.7,790.5 838.7,785.2 846.7,782.7 854.7,782.4 862.7,781.2 870.7,781.1 878.7,778.9 886.8,776.0 894.8,776.7 902.8,780.5 910.8,784.4 918.8,794.3 926.8,805.9 934.8,817.6 942.8,827.9 950.8,835.2 958.8,838.1 966.8,839.0 974.8,838.9 982.8,841.4 990.8,839.5 998.8,840.8 1006.8,841.2 1014.8,837.3 1022.8,829.9 1030.8,819.6 1038.8,809.9 1046.9,801.6 1054.9,797.9 1062.9,800.1 1070.9,807.5 1078.9,817.9 1086.9,826.1 1094.9,833.0 1102.9,837.0 1110.9,840.4 1118.9,840.7 1126.9,840.5 1134.9,836.9 1142.9,831.7 1150.9,823.2 1158.9,812.8 1166.9,803.3 1174.9,795.3 1182.9,788.6 1190.9,782.9 1198.9,781.2 1207.0,779.5 1215.0,779.5 1223.0,781.0 1231.0,785.2 1239.0,784.7 1247.0,781.9 1255.0,778.4 1263.0,777.1 1271.0,776.1 1279.0,774.0 1287.0,772.2 1295.0,771.9 1303.0,770.6 1311.0,770.2 1319.0,775.5 1327.0,786.0 1335.0,795.4 1343.0,801.9 1351.0,809.9 1359.0,816.5 1367.1,825.6 1375.1,834.7 1383.1,841.4 1391.1,847.7 1399.1,852.2 1407.1,852.8 1415.1,849.0 1423.1,840.8 1431.1,829.9 1439.1,820.4"/>
<polyline fill="none" stroke="#e600e6" stroke-width="1.35" stroke-linejoin="round" points="6.2,761.6 14.2,753.6 22.2,779.4 30.2,767.0 38.2,765.5 46.2,795.4 54.2,811.0 62.2,805.1 70.2,791.2 78.2,807.8 86.3,818.9 94.3,848.3 102.3,850.0 110.3,807.5 118.3,771.0 126.3,753.7 134.3,748.1 142.3,750.1 150.3,770.5 158.3,759.9 166.3,765.9 174.3,765.6 182.3,780.0 190.3,766.6 198.3,760.1 206.3,772.0 214.3,775.4 222.3,780.8 230.3,768.7 238.3,776.6 246.4,773.9 254.4,764.1 262.4,765.8 270.4,827.1 278.4,833.1 286.4,820.6 294.4,827.0 302.4,856.4 310.4,852.9 318.4,810.2 326.4,790.6 334.4,774.8 342.4,765.2 350.4,759.7 358.4,793.7 366.4,838.4 374.4,851.8 382.4,875.4 390.4,821.6 398.4,777.8 406.5,761.5 414.5,748.6 422.5,745.5 430.5,757.3 438.5,766.7 446.5,771.4 454.5,790.1 462.5,817.5 470.5,853.8 478.5,820.9 486.5,797.2 494.5,793.2 502.5,770.8 510.5,799.5 518.5,825.3 526.5,835.6 534.5,871.0 542.5,888.0 550.5,889.4 558.5,880.9 566.6,879.3 574.6,872.6 582.6,872.1 590.6,875.2 598.6,853.6 606.6,847.8 614.6,849.5 622.6,830.0 630.6,788.6 638.6,805.7 646.6,822.8 654.6,807.9 662.6,812.8 670.6,843.5 678.6,858.2 686.6,832.3 694.6,807.7 702.6,793.0 710.6,782.1 718.6,784.3 726.7,793.5 734.7,823.4 742.7,838.4 750.7,866.3 758.7,860.0 766.7,798.5 774.7,774.2 782.7,763.7 790.7,782.4 798.7,789.4 806.7,793.9 814.7,789.1 822.7,768.2 830.7,759.5 838.7,753.5 846.7,768.0 854.7,780.5 862.7,773.8 870.7,780.9 878.7,765.6 886.8,758.3 894.8,780.8 902.8,803.5 910.8,807.6 918.8,854.0 926.8,875.6 934.8,887.9 942.8,889.7 950.8,878.5 958.8,855.8 966.8,844.3 974.8,838.1 982.8,856.5 990.8,827.8 998.8,849.0 1006.8,843.4 1014.8,813.8 1022.8,785.3 1030.8,757.8 1038.8,752.0 1046.9,752.0 1054.9,775.7 1062.9,813.1 1070.9,852.1 1078.9,880.2 1086.9,875.5 1094.9,874.0 1102.9,861.4 1110.9,860.8 1118.9,842.6 1126.9,838.9 1134.9,815.7 1142.9,800.0 1150.9,772.5 1158.9,750.5 1166.9,746.4 1174.9,747.1 1182.9,748.2 1190.9,748.8 1198.9,771.4 1207.0,768.8 1215.0,779.9 1223.0,789.6 1231.0,810.3 1239.0,782.1 1247.0,765.1 1255.0,757.2 1263.0,769.3 1271.0,770.0 1279.0,761.4 1287.0,761.5 1295.0,770.3 1303.0,762.8 1311.0,767.3 1319.0,807.6 1327.0,849.1 1335.0,851.7 1343.0,840.8 1351.0,857.7 1359.0,856.5 1367.1,879.9 1375.1,889.3 1383.1,881.5 1391.1,885.5 1399.1,879.1 1407.1,856.7 1415.1,826.4 1423.1,791.7 1431.1,764.2 1439.1,763.3"/>
<rect x="2" y="539.6" width="1506" height="2" fill="#880000"/>
<rect x="2" y="715.4" width="1506" height="1.8" fill="#880000"/>
<rect x="2" y="891.9" width="1467" height="1.7" fill="#880000"/>
<rect x="1468" y="890.5" width="40" height="1.9" fill="#880000"/>
<rect x="1467.3" y="12" width="2" height="889" fill="#880000"/>
<rect x="1469" y="692.2" width="39" height="1.6" fill="#880000"/>
<rect x="1469" y="34.3" width="7.6" height="1.8" fill="#880000"/>
<rect x="1469" y="65.5" width="3.4" height="1.6" fill="#880000"/>
<rect x="1469" y="96.6" width="7.6" height="1.8" fill="#880000"/>
<rect x="1469" y="127.9" width="3.4" height="1.6" fill="#880000"/>
<rect x="1469" y="158.9" width="7.6" height="1.8" fill="#880000"/>
<rect x="1469" y="190.2" width="3.4" height="1.6" fill="#880000"/>
<rect x="1469" y="221.2" width="7.6" height="1.8" fill="#880000"/>
<rect x="1469" y="252.4" width="3.4" height="1.6" fill="#880000"/>
<rect x="1469" y="283.5" width="7.6" height="1.8" fill="#880000"/>
<rect x="1469" y="314.7" width="3.4" height="1.6" fill="#880000"/>
<rect x="1469" y="345.8" width="7.6" height="1.8" fill="#880000"/>
<rect x="1469" y="377.0" width="3.4" height="1.6" fill="#880000"/>
<rect x="1469" y="408.1" width="7.6" height="1.8" fill="#880000"/>
<rect x="1469" y="439.3" width="3.4" height="1.6" fill="#880000"/>
<rect x="1469" y="470.4" width="7.6" height="1.8" fill="#880000"/>
<rect x="1469" y="565.4" width="7.6" height="1.8" fill="#880000"/>
<rect x="1469" y="614.7" width="7.6" height="1.8" fill="#880000"/>
<rect x="1469" y="664.3" width="7.6" height="1.8" fill="#880000"/>
<rect x="1469" y="590.2" width="3.4" height="1.6" fill="#880000"/>
<rect x="1469" y="639.8" width="3.4" height="1.6" fill="#880000"/>
<rect x="108.4" y="892.5" width="1.8" height="9" fill="#880000"/>
<rect x="228.5" y="892.5" width="1.8" height="9" fill="#880000"/>
<rect x="396.7" y="892.5" width="1.8" height="9" fill="#880000"/>
<rect x="564.4" y="892.5" width="1.8" height="9" fill="#880000"/>
<rect x="724.5" y="892.5" width="1.8" height="9" fill="#880000"/>
<rect x="876.5" y="892.5" width="1.8" height="9" fill="#880000"/>
<rect x="1061.6" y="892.5" width="1.8" height="9" fill="#880000"/>
<rect x="1236.7" y="892.5" width="1.8" height="9" fill="#880000"/>
<rect x="138.6" y="892.5" width="1.6" height="4.2" fill="#880000"/>
<rect x="168.6" y="892.5" width="1.6" height="4.2" fill="#880000"/>
<rect x="198.4" y="892.5" width="1.6" height="4.2" fill="#880000"/>
<rect x="270.6" y="892.5" width="1.6" height="4.2" fill="#880000"/>
<rect x="312.4" y="892.5" width="1.6" height="4.2" fill="#880000"/>
<rect x="354.5" y="892.5" width="1.6" height="4.2" fill="#880000"/>
<rect x="438.4" y="892.5" width="1.6" height="4.2" fill="#880000"/>
<rect x="480.0" y="892.5" width="1.6" height="4.2" fill="#880000"/>
<rect x="522.3" y="892.5" width="1.6" height="4.2" fill="#880000"/>
<rect x="604.8" y="892.5" width="1.6" height="4.2" fill="#880000"/>
<rect x="645.1" y="892.5" width="1.6" height="4.2" fill="#880000"/>
<rect x="684.1" y="892.5" width="1.6" height="4.2" fill="#880000"/>
<rect x="762.3" y="892.5" width="1.6" height="4.2" fill="#880000"/>
<rect x="801.6" y="892.5" width="1.6" height="4.2" fill="#880000"/>
<rect x="839.2" y="892.5" width="1.6" height="4.2" fill="#880000"/>
<rect x="923.1" y="892.5" width="1.6" height="4.2" fill="#880000"/>
<rect x="969.7" y="892.5" width="1.6" height="4.2" fill="#880000"/>
<rect x="1014.3" y="892.5" width="1.6" height="4.2" fill="#880000"/>
<rect x="1104.5" y="892.5" width="1.6" height="4.2" fill="#880000"/>
<rect x="1149.4" y="892.5" width="1.6" height="4.2" fill="#880000"/>
<rect x="1192.7" y="892.5" width="1.6" height="4.2" fill="#880000"/>
<rect x="1277.2" y="892.5" width="1.6" height="4.2" fill="#880000"/>
<path d="M1435.4,18.2L1443.2,26.4L1435.4,34.6L1427.6,26.4Z" fill="none" stroke="#880000" stroke-width="1.5"/>
<rect x="1450.2" y="18.8" width="13.8" height="15" fill="none" stroke="#880000" stroke-width="1.9"/>
<line x1="1459.4" y1="18.8" x2="1459.4" y2="33.8" stroke="#880000" stroke-width="1.7"/>
<text x="1499.6" y="41.7" font-size="18" fill="#d40000" text-anchor="start" stroke="#000" stroke-width="0.25">3300</text>
<text x="1499.6" y="104.0" font-size="18" fill="#d40000" text-anchor="start" stroke="#000" stroke-width="0.25">3200</text>
<text x="1499.6" y="166.3" font-size="18" fill="#d40000" text-anchor="start" stroke="#000" stroke-width="0.25">3100</text>
<text x="1499.6" y="290.9" font-size="18" fill="#d40000" text-anchor="start" stroke="#000" stroke-width="0.25">2900</text>
<text x="1499.6" y="353.2" font-size="18" fill="#d40000" text-anchor="start" stroke="#000" stroke-width="0.25">2800</text>
<text x="1499.6" y="415.49999999999994" font-size="18" fill="#d40000" text-anchor="start" stroke="#000" stroke-width="0.25">2700</text>
<text x="1499.6" y="477.79999999999995" font-size="18" fill="#d40000" text-anchor="start" stroke="#000" stroke-width="0.25">2600</text>
<text x="1489.6" y="572.8" font-size="18" fill="#d40000" text-anchor="start" stroke="#000" stroke-width="0.25">6000</text>
<text x="1489.6" y="622.1" font-size="18" fill="#d40000" text-anchor="start" stroke="#000" stroke-width="0.25">4000</text>
<text x="1489.6" y="671.7" font-size="18" fill="#d40000" text-anchor="start" stroke="#000" stroke-width="0.25">2000</text>
<text x="1472" y="712" font-size="18" fill="#d40000" text-anchor="start" textLength="21" lengthAdjust="spacingAndGlyphs" stroke="#000" stroke-width="0.25">X1</text>
<text x="1493.6" y="713" font-size="18" fill="#d40000" text-anchor="start" font-family="Liberation Sans, Noto Sans CJK SC, sans-serif">万</text>
<text x="1485.3" y="767.9" font-size="18" fill="#d40000" text-anchor="start" stroke="#000" stroke-width="0.25">100</text>
<text x="1495.7" y="789.9" font-size="18" fill="#d40000" text-anchor="start" stroke="#000" stroke-width="0.25">80</text>
<text x="1495.7" y="822.9" font-size="18" fill="#d40000" text-anchor="start" stroke="#000" stroke-width="0.25">50</text>
<text x="1495.7" y="855.9" font-size="18" fill="#d40000" text-anchor="start" stroke="#000" stroke-width="0.25">20</text>
<text x="1506" y="877.9" font-size="18" fill="#d40000" text-anchor="start" stroke="#000" stroke-width="0.25">0</text>
<text x="3.2" y="32.6" font-size="18" fill="#f0f0f0" text-anchor="start" textLength="70.8" lengthAdjust="spacingAndGlyphs" font-family="Liberation Sans, Noto Sans CJK SC, sans-serif">上证指数</text>
<text x="74.6" y="31.1" font-size="18" fill="#e6e6e6" text-anchor="start" stroke="#000" stroke-width="0.25">(</text>
<text x="80.6" y="32.6" font-size="18" fill="#f0f0f0" text-anchor="start" textLength="35.4" lengthAdjust="spacingAndGlyphs" font-family="Liberation Sans, Noto Sans CJK SC, sans-serif">日线</text>
<text x="116.4" y="31.1" font-size="18" fill="#e6e6e6" text-anchor="start" stroke="#000" stroke-width="0.25">.</text>
<text x="121.4" y="32.6" font-size="18" fill="#f0f0f0" text-anchor="start" textLength="53.1" lengthAdjust="spacingAndGlyphs" font-family="Liberation Sans, Noto Sans CJK SC, sans-serif">前复权</text>
<text x="175.09999999999997" y="31.1" font-size="18" fill="#e6e6e6" text-anchor="start" stroke="#000" stroke-width="0.25">)</text>
<path transform="translate(198.6,16.3)" d="M0,0L7.8,9H3.4V16.3H-3.4V9H-7.8Z" fill="#ff0000"/>
<text x="4" y="32" font-size="17" visibility="hidden">上证指数(日线.前复权) X1万 2019年</text>
<text x="211.6" y="31.1" font-size="18" fill="#e6e6e6" text-anchor="start" textLength="114.6" lengthAdjust="spacingAndGlyphs" stroke="#000" stroke-width="0.25">EXPMA(12,50)</text>
<text x="336.3" y="31.1" font-size="18" fill="#e6e6e6" text-anchor="start" textLength="47.6" lengthAdjust="spacingAndGlyphs" stroke="#000" stroke-width="0.25">EXP1:</text>
<text x="390" y="31.1" font-size="18" fill="#e6e6e6" text-anchor="start" textLength="63" lengthAdjust="spacingAndGlyphs" stroke="#000" stroke-width="0.25">2964.61</text>
<text x="465.2" y="31.1" font-size="18" fill="#ffff00" text-anchor="start" textLength="47.6" lengthAdjust="spacingAndGlyphs" stroke="#000" stroke-width="0.25">EXP2:</text>
<text x="518.9" y="31.1" font-size="18" fill="#ffff00" text-anchor="start" textLength="65.6" lengthAdjust="spacingAndGlyphs" stroke="#000" stroke-width="0.25">2943.12</text>
<text x="2.6" y="559.6" font-size="18" fill="#e6e6e6" text-anchor="start" textLength="76.6" lengthAdjust="spacingAndGlyphs" stroke="#000" stroke-width="0.25">VOLUME:</text>
<text x="86.6" y="559.6" font-size="18" fill="#e6e6e6" text-anchor="start" textLength="116.8" lengthAdjust="spacingAndGlyphs" stroke="#000" stroke-width="0.25">155376896.00</text>
<text x="213.2" y="559.6" font-size="18" fill="#e6e6e6" text-anchor="start" textLength="38" lengthAdjust="spacingAndGlyphs" stroke="#000" stroke-width="0.25">MA5:</text>
<text x="257.6" y="559.6" font-size="18" fill="#e6e6e6" text-anchor="start" textLength="116" lengthAdjust="spacingAndGlyphs" stroke="#000" stroke-width="0.25">157971872.00</text>
<text x="384.4" y="559.6" font-size="18" fill="#ffff00" text-anchor="start" textLength="47.4" lengthAdjust="spacingAndGlyphs" stroke="#000" stroke-width="0.25">MA10:</text>
<text x="439.1" y="559.6" font-size="18" fill="#ffff00" text-anchor="start" textLength="116.4" lengthAdjust="spacingAndGlyphs" stroke="#000" stroke-width="0.25">152242336.00</text>
<text x="3.2" y="735" font-size="18" fill="#e6e6e6" text-anchor="start" textLength="83.8" lengthAdjust="spacingAndGlyphs" stroke="#000" stroke-width="0.25">KDJ(9,3,3)</text>
<text x="97.6" y="735" font-size="18" fill="#e6e6e6" text-anchor="start" textLength="12.8" lengthAdjust="spacingAndGlyphs" stroke="#000" stroke-width="0.25">K:</text>
<text x="118.8" y="735" font-size="18" fill="#e6e6e6" text-anchor="start" textLength="43.6" lengthAdjust="spacingAndGlyphs" stroke="#000" stroke-width="0.25">62.72</text>
<text x="173" y="735" font-size="18" fill="#ffff00" text-anchor="start" textLength="14.8" lengthAdjust="spacingAndGlyphs" stroke="#000" stroke-width="0.25">D:</text>
<text x="195.6" y="735" font-size="18" fill="#ffff00" text-anchor="start" textLength="43.2" lengthAdjust="spacingAndGlyphs" stroke="#000" stroke-width="0.25">45.89</text>
<text x="248.3" y="735" font-size="18" fill="#ff00ff" text-anchor="start" textLength="10.6" lengthAdjust="spacingAndGlyphs" stroke="#000" stroke-width="0.25">J:</text>
<text x="267.4" y="735" font-size="18" fill="#ff00ff" text-anchor="start" textLength="43.6" lengthAdjust="spacingAndGlyphs" stroke="#000" stroke-width="0.25">96.39</text>
<rect x="1469" y="216.9" width="40" height="23.2" fill="#0000f6" stroke="#880000" stroke-width="1.4"/>
<text x="1470.6" y="234" font-size="18" fill="#f4f4f4" text-anchor="start" letter-spacing="0.55" stroke="#000" stroke-width="0.25">2970.00</text>
<rect x="1313.2" y="893.6" width="115.6" height="10" fill="#0000f6" stroke="#880000" stroke-width="1.4"/>
<text x="1314.6" y="911.1" font-size="18" fill="#f4f4f4" text-anchor="start" textLength="96.4" lengthAdjust="spacingAndGlyphs" stroke="#000" stroke-width="0.25">2019/08/16/</text>
<text x="4.6" y="911.2" font-size="18" fill="#d40000" text-anchor="start" textLength="39.6" lengthAdjust="spacingAndGlyphs" stroke="#000" stroke-width="0.25">2019</text>
<text x="45" y="912.4" font-size="18" fill="#d40000" text-anchor="start" font-family="Liberation Sans, Noto Sans CJK SC, sans-serif">年</text>
<text x="112.4" y="911.2" font-size="18" fill="#d40000" text-anchor="start" stroke="#000" stroke-width="0.25">2</text>
<text x="232.4" y="911.2" font-size="18" fill="#d40000" text-anchor="start" stroke="#000" stroke-width="0.25">3</text>
<text x="400.6" y="911.2" font-size="18" fill="#d40000" text-anchor="start" stroke="#000" stroke-width="0.25">4</text>
<text x="568.4" y="911.2" font-size="18" fill="#d40000" text-anchor="start" stroke="#000" stroke-width="0.25">5</text>
<text x="728.4" y="911.2" font-size="18" fill="#d40000" text-anchor="start" stroke="#000" stroke-width="0.25">6</text>
<text x="880.4" y="911.2" font-size="18" fill="#d40000" text-anchor="start" stroke="#000" stroke-width="0.25">7</text>
<text x="1065.4" y="911.2" font-size="18" fill="#d40000" text-anchor="start" stroke="#000" stroke-width="0.25">8</text>
<text x="1240.6" y="911.2" font-size="18" fill="#d40000" text-anchor="start" stroke="#000" stroke-width="0.25">9</text>
<path d="M3.4,481.4L11.6,488.4L3.4,495.4Z" fill="#e59a00"/>
<rect x="0" y="0" width="1508" height="12.2" fill="url(#tb)"/>
<rect x="3.2" y="0" width="24.4" height="2.8" fill="#f4f4f4"/>
<rect x="29.5" y="0" width="1" height="9" fill="#e2e2e2" opacity="0.7"/>
<rect x="93" y="0" width="1" height="9" fill="#e2e2e2" opacity="0.7"/>
<rect x="157" y="0" width="1" height="9" fill="#e2e2e2" opacity="0.7"/>
<rect x="221" y="0" width="1" height="9" fill="#e2e2e2" opacity="0.7"/>
<rect x="285.5" y="0" width="1" height="9" fill="#e2e2e2" opacity="0.7"/>
<rect x="372" y="0" width="1" height="9" fill="#e2e2e2" opacity="0.7"/>
<rect x="435.6" y="0" width="1" height="9" fill="#e2e2e2" opacity="0.7"/>
<rect x="500" y="0" width="1" height="9" fill="#e2e2e2" opacity="0.7"/>
<rect x="565.5" y="0" width="1" height="9" fill="#e2e2e2" opacity="0.7"/>
<rect x="580.4" y="0" width="57.6" height="9" fill="#e0e0e0"/>
<rect x="580.4" y="0" width="1.4" height="9" fill="#fafafa"/><rect x="636.6" y="0" width="1.4" height="9" fill="#fafafa"/>
<rect x="648" y="0" width="57.7" height="9" fill="#e0e0e0"/>
<rect x="648" y="0" width="1.4" height="9" fill="#fafafa"/><rect x="704.3" y="0" width="1.4" height="9" fill="#fafafa"/>
<line x1="42" y1="0.6" x2="77" y2="0.6" stroke="#1a1a1a" stroke-width="1.6" stroke-dasharray="2.2 2.6 1.4 1.8 3 2.2" opacity="0.85"/>
<line x1="111" y1="0.6" x2="141" y2="0.6" stroke="#1a1a1a" stroke-width="1.6" stroke-dasharray="2.2 2.6 1.4 1.8 3 2.2" opacity="0.85"/>
<line x1="172" y1="0.6" x2="207" y2="0.6" stroke="#1a1a1a" stroke-width="1.6" stroke-dasharray="2.2 2.6 1.4 1.8 3 2.2" opacity="0.85"/>
<line x1="237" y1="0.6" x2="270" y2="0.6" stroke="#1a1a1a" stroke-width="1.6" stroke-dasharray="2.2 2.6 1.4 1.8 3 2.2" opacity="0.85"/>
<line x1="293.4" y1="0.6" x2="362" y2="0.6" stroke="#1a1a1a" stroke-width="1.6" stroke-dasharray="2.2 2.6 1.4 1.8 3 2.2" opacity="0.85"/>
<line x1="385" y1="0.6" x2="421" y2="0.6" stroke="#1a1a1a" stroke-width="1.6" stroke-dasharray="2.2 2.6 1.4 1.8 3 2.2" opacity="0.85"/>
<line x1="450" y1="0.6" x2="485" y2="0.6" stroke="#1a1a1a" stroke-width="1.6" stroke-dasharray="2.2 2.6 1.4 1.8 3 2.2" opacity="0.85"/>
<line x1="515.8" y1="0.6" x2="549.6" y2="0.6" stroke="#1a1a1a" stroke-width="1.6" stroke-dasharray="2.2 2.6 1.4 1.8 3 2.2" opacity="0.85"/>
<line x1="591.3" y1="0.6" x2="626" y2="0.6" stroke="#f01010" stroke-width="1.6" stroke-dasharray="2.2 2.6 1.4 1.8 3 2.2" opacity="0.95"/>
<line x1="662" y1="0.6" x2="693.7" y2="0.6" stroke="#f01010" stroke-width="1.6" stroke-dasharray="2.2 2.6 1.4 1.8 3 2.2" opacity="0.95"/>
<line x1="991.8" y1="1.0" x2="1112" y2="1.0" stroke="#101010" stroke-width="2.4" stroke-dasharray="2.2 2.6 1.4 1.8 3 2.2" opacity="0.9"/>
<line x1="1133" y1="1.0" x2="1203.5" y2="1.0" stroke="#101010" stroke-width="2.4" stroke-dasharray="2.2 2.6 1.4 1.8 3 2.2" opacity="0.9"/>
<path d="M1496,0Q1498,6.4 1508,6.6V0Z" fill="#f6f6f6" stroke="#9a9a9a" stroke-width="0.8"/>
<rect x="0" y="12" width="2" height="889" fill="#e4e4e4"/>
<rect x="1.8" y="12" width="0.8" height="889" fill="#5a5a5a"/>
<rect x="1489" y="898" width="13" height="8" fill="none" stroke="#c8c8c8" stroke-width="1.6"/>
<path d="M1504,901L1508,896" stroke="#c8c8c8" stroke-width="1.6"/>
</svg>
</body></html>
